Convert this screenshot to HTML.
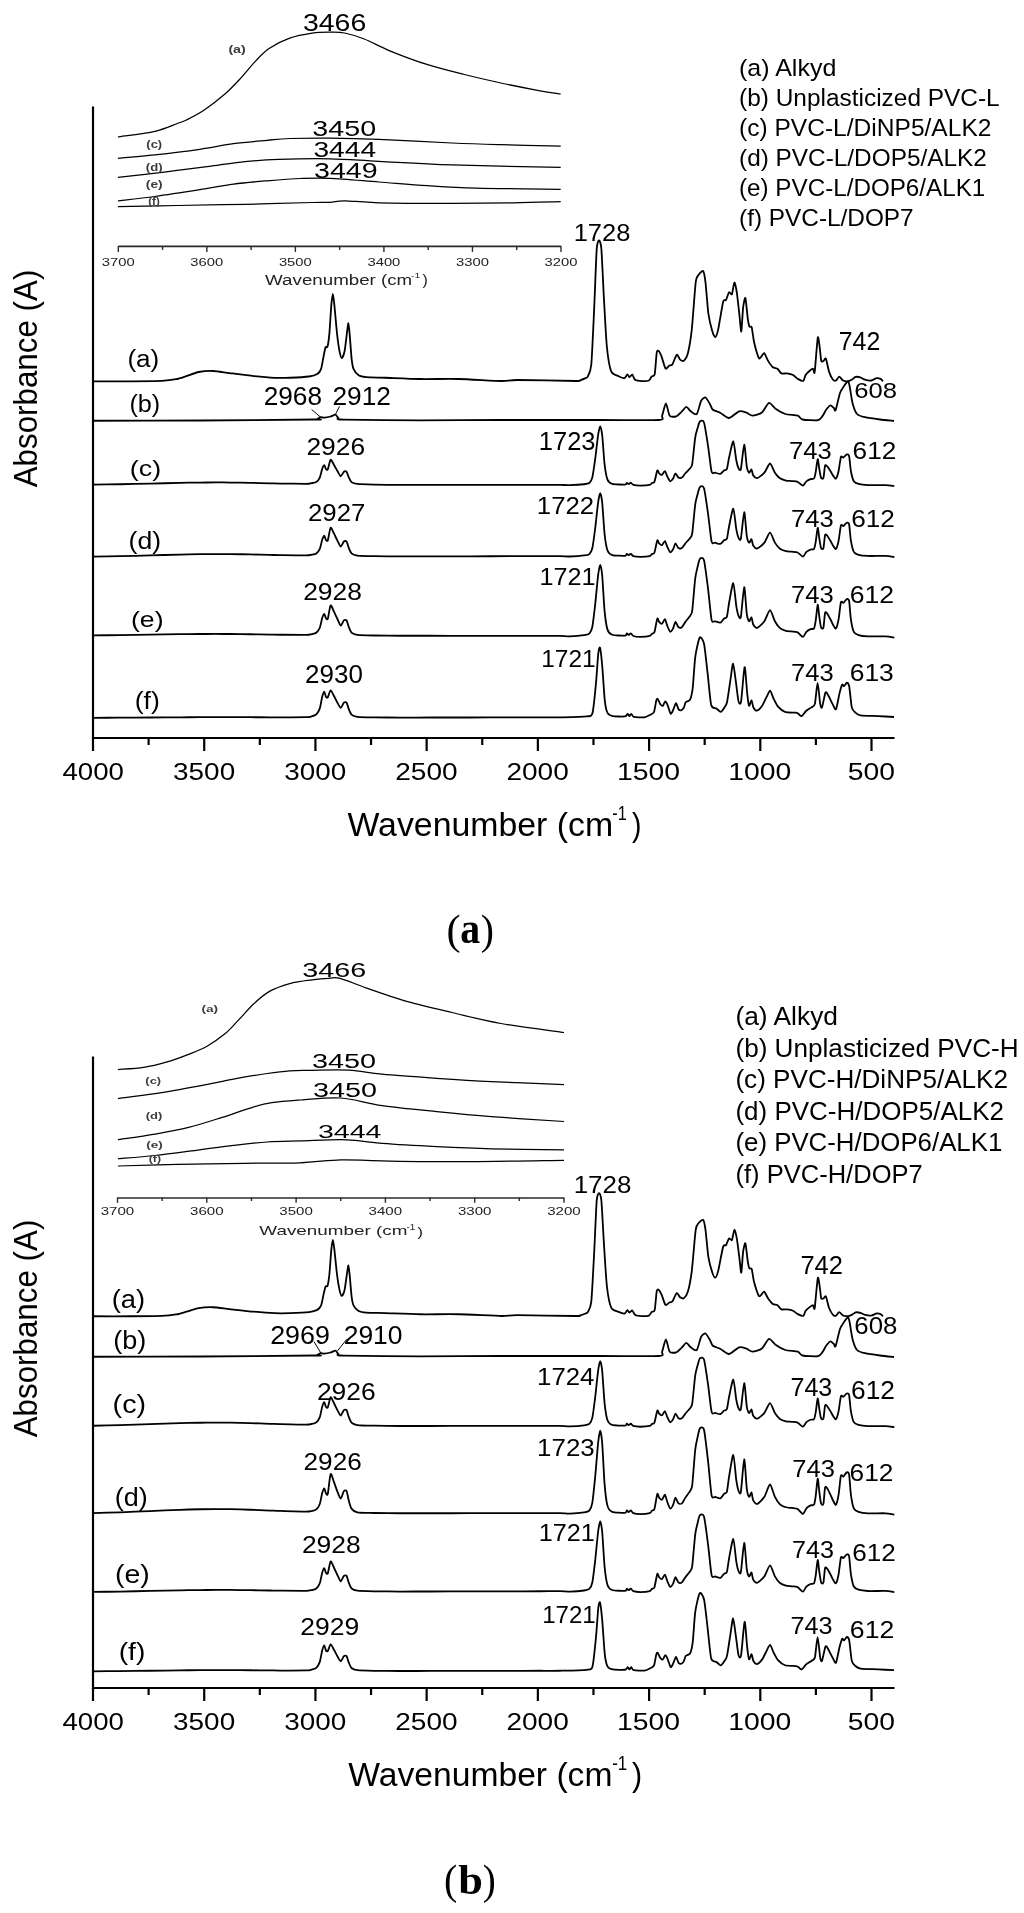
<!DOCTYPE html>
<html><head><meta charset="utf-8"><style>
html,body{margin:0;padding:0;background:#fff;overflow:hidden;}
svg{display:block;will-change:transform;}
</style></head><body>
<svg width="1024" height="1913" viewBox="0 0 1024 1913">
<rect width="1024" height="1913" fill="#fff"/>
<g fill="#000">
<line x1="93.00" y1="106.40" x2="93.00" y2="739.00" stroke="#000" stroke-width="2.2"/>
<line x1="92.00" y1="738.00" x2="894.50" y2="738.00" stroke="#000" stroke-width="2.2"/>
<line x1="93.00" y1="738.00" x2="93.00" y2="751.00" stroke="#000" stroke-width="2.2"/>
<line x1="148.61" y1="738.00" x2="148.61" y2="745.00" stroke="#000" stroke-width="2.2"/>
<line x1="204.21" y1="738.00" x2="204.21" y2="751.00" stroke="#000" stroke-width="2.2"/>
<line x1="259.82" y1="738.00" x2="259.82" y2="745.00" stroke="#000" stroke-width="2.2"/>
<line x1="315.43" y1="738.00" x2="315.43" y2="751.00" stroke="#000" stroke-width="2.2"/>
<line x1="371.04" y1="738.00" x2="371.04" y2="745.00" stroke="#000" stroke-width="2.2"/>
<line x1="426.64" y1="738.00" x2="426.64" y2="751.00" stroke="#000" stroke-width="2.2"/>
<line x1="482.25" y1="738.00" x2="482.25" y2="745.00" stroke="#000" stroke-width="2.2"/>
<line x1="537.86" y1="738.00" x2="537.86" y2="751.00" stroke="#000" stroke-width="2.2"/>
<line x1="593.47" y1="738.00" x2="593.47" y2="745.00" stroke="#000" stroke-width="2.2"/>
<line x1="649.07" y1="738.00" x2="649.07" y2="751.00" stroke="#000" stroke-width="2.2"/>
<line x1="704.68" y1="738.00" x2="704.68" y2="745.00" stroke="#000" stroke-width="2.2"/>
<line x1="760.29" y1="738.00" x2="760.29" y2="751.00" stroke="#000" stroke-width="2.2"/>
<line x1="815.90" y1="738.00" x2="815.90" y2="745.00" stroke="#000" stroke-width="2.2"/>
<line x1="871.50" y1="738.00" x2="871.50" y2="751.00" stroke="#000" stroke-width="2.2"/>
<text transform="translate(62.45,779.75) scale(1.1218,1)" font-size="24.65" font-family='"Liberation Sans", sans-serif' font-weight="normal">4000</text>
<text transform="translate(173.10,779.75) scale(1.1322,1)" font-size="24.65" font-family='"Liberation Sans", sans-serif' font-weight="normal">3500</text>
<text transform="translate(284.31,779.75) scale(1.1322,1)" font-size="24.65" font-family='"Liberation Sans", sans-serif' font-weight="normal">3000</text>
<text transform="translate(395.24,779.75) scale(1.1375,1)" font-size="24.65" font-family='"Liberation Sans", sans-serif' font-weight="normal">2500</text>
<text transform="translate(506.46,779.75) scale(1.1375,1)" font-size="24.65" font-family='"Liberation Sans", sans-serif' font-weight="normal">2000</text>
<text transform="translate(616.95,779.75) scale(1.1510,1)" font-size="24.65" font-family='"Liberation Sans", sans-serif' font-weight="normal">1500</text>
<text transform="translate(728.16,779.75) scale(1.1510,1)" font-size="24.65" font-family='"Liberation Sans", sans-serif' font-weight="normal">1000</text>
<text transform="translate(847.87,779.75) scale(1.1482,1)" font-size="24.65" font-family='"Liberation Sans", sans-serif' font-weight="normal">500</text>
<line x1="118.30" y1="246.40" x2="561.00" y2="246.40" stroke="#2a2a2a" stroke-width="1.6"/>
<line x1="118.30" y1="245.90" x2="118.30" y2="251.90" stroke="#2a2a2a" stroke-width="1.4"/>
<line x1="162.57" y1="245.90" x2="162.57" y2="249.90" stroke="#2a2a2a" stroke-width="1.4"/>
<line x1="206.84" y1="245.90" x2="206.84" y2="251.90" stroke="#2a2a2a" stroke-width="1.4"/>
<line x1="251.11" y1="245.90" x2="251.11" y2="249.90" stroke="#2a2a2a" stroke-width="1.4"/>
<line x1="295.38" y1="245.90" x2="295.38" y2="251.90" stroke="#2a2a2a" stroke-width="1.4"/>
<line x1="339.65" y1="245.90" x2="339.65" y2="249.90" stroke="#2a2a2a" stroke-width="1.4"/>
<line x1="383.92" y1="245.90" x2="383.92" y2="251.90" stroke="#2a2a2a" stroke-width="1.4"/>
<line x1="428.19" y1="245.90" x2="428.19" y2="249.90" stroke="#2a2a2a" stroke-width="1.4"/>
<line x1="472.46" y1="245.90" x2="472.46" y2="251.90" stroke="#2a2a2a" stroke-width="1.4"/>
<line x1="516.73" y1="245.90" x2="516.73" y2="249.90" stroke="#2a2a2a" stroke-width="1.4"/>
<line x1="561.00" y1="245.90" x2="561.00" y2="251.90" stroke="#2a2a2a" stroke-width="1.4"/>
<text transform="translate(101.81,265.78) scale(1.2652,1)" font-size="11.69" font-family='"Liberation Sans", sans-serif' font-weight="normal" fill="#222">3700</text>
<text transform="translate(190.35,265.78) scale(1.2652,1)" font-size="11.69" font-family='"Liberation Sans", sans-serif' font-weight="normal" fill="#222">3600</text>
<text transform="translate(278.89,265.78) scale(1.2652,1)" font-size="11.69" font-family='"Liberation Sans", sans-serif' font-weight="normal" fill="#222">3500</text>
<text transform="translate(367.43,265.78) scale(1.2652,1)" font-size="11.69" font-family='"Liberation Sans", sans-serif' font-weight="normal" fill="#222">3400</text>
<text transform="translate(455.97,265.78) scale(1.2652,1)" font-size="11.69" font-family='"Liberation Sans", sans-serif' font-weight="normal" fill="#222">3300</text>
<text transform="translate(544.51,265.78) scale(1.2652,1)" font-size="11.69" font-family='"Liberation Sans", sans-serif' font-weight="normal" fill="#222">3200</text>
<path d="M117.90,137.00 C124.07,136.05 144.98,133.55 154.90,131.30 C164.82,129.05 172.15,125.38 177.40,123.50 C182.65,121.62 181.92,122.25 186.40,120.00 C190.88,117.75 197.93,114.28 204.30,110.00 C210.67,105.72 218.60,99.53 224.60,94.30 C230.60,89.07 235.07,84.22 240.30,78.60 C245.53,72.98 251.13,65.65 256.00,60.60 C260.87,55.55 263.88,52.03 269.50,48.30 C275.12,44.57 282.58,40.72 289.70,38.20 C296.82,35.68 305.57,34.20 312.20,33.20 C318.83,32.20 324.10,32.23 329.50,32.20 C334.90,32.17 338.82,31.87 344.60,33.00 C350.38,34.13 356.47,35.95 364.20,39.00 C371.93,42.05 380.42,47.02 391.00,51.30 C401.58,55.58 415.48,60.83 427.70,64.70 C439.92,68.57 452.10,71.45 464.30,74.50 C476.50,77.55 488.70,80.37 500.90,83.00 C513.10,85.63 527.53,88.47 537.50,90.30 C547.47,92.13 556.83,93.38 560.70,94.00" fill="none" stroke="#000" stroke-width="1.25" stroke-linejoin="round"/>
<path d="M117.90,158.30 C124.07,157.73 141.25,156.40 154.90,154.90 C168.55,153.40 186.70,151.17 199.80,149.30 C212.90,147.43 222.27,145.20 233.50,143.70 C244.73,142.20 257.83,141.17 267.20,140.30 C276.57,139.43 279.23,138.87 289.70,138.50 C300.17,138.13 315.15,137.97 330.00,138.10 C344.85,138.23 358.47,138.48 378.80,139.30 C399.13,140.12 431.65,142.10 452.00,143.00 C472.35,143.90 482.78,144.18 500.90,144.70 C519.02,145.22 550.73,145.87 560.70,146.10" fill="none" stroke="#000" stroke-width="1.25" stroke-linejoin="round"/>
<path d="M117.90,177.40 C125.95,176.47 150.67,173.67 166.20,171.80 C181.73,169.93 198.00,167.88 211.10,166.20 C224.20,164.52 233.57,162.83 244.80,161.70 C256.03,160.57 264.30,159.88 278.50,159.40 C292.70,158.92 313.28,158.48 330.00,158.80 C346.72,159.12 358.47,160.28 378.80,161.30 C399.13,162.32 421.68,163.88 452.00,164.90 C482.32,165.92 542.58,166.98 560.70,167.40" fill="none" stroke="#000" stroke-width="1.25" stroke-linejoin="round"/>
<path d="M117.90,201.00 C124.07,200.25 141.25,198.38 154.90,196.50 C168.55,194.62 186.70,191.77 199.80,189.70 C212.90,187.63 222.27,185.58 233.50,184.10 C244.73,182.62 255.97,181.73 267.20,180.80 C278.43,179.87 290.43,178.90 300.90,178.50 C311.37,178.10 317.02,177.82 330.00,178.40 C342.98,178.98 362.52,180.78 378.80,182.00 C395.08,183.22 411.42,184.68 427.70,185.70 C443.98,186.72 454.33,187.50 476.50,188.10 C498.67,188.70 546.67,189.10 560.70,189.30" fill="none" stroke="#000" stroke-width="1.25" stroke-linejoin="round"/>
<path d="M117.90,206.60 C127.82,206.42 156.25,205.88 177.40,205.50 C198.55,205.12 222.33,204.80 244.80,204.30 C267.27,203.80 298.00,202.83 312.20,202.50 C326.40,202.17 324.60,202.58 330.00,202.30 C335.40,202.02 336.47,200.72 344.60,200.80 C352.73,200.88 360.90,202.38 378.80,202.80 C396.70,203.22 429.62,203.30 452.00,203.30 C474.38,203.30 494.98,203.08 513.10,202.80 C531.22,202.52 552.77,201.80 560.70,201.60" fill="none" stroke="#000" stroke-width="1.25" stroke-linejoin="round"/>
<text transform="translate(302.96,31.16) scale(1.2091,1)" font-size="23.52" font-family='"Liberation Sans", sans-serif' font-weight="normal">3466</text>
<text transform="translate(312.35,135.98) scale(1.3231,1)" font-size="21.69" font-family='"Liberation Sans", sans-serif' font-weight="normal">3450</text>
<text transform="translate(313.48,156.68) scale(1.2965,1)" font-size="21.69" font-family='"Liberation Sans", sans-serif' font-weight="normal">3444</text>
<text transform="translate(314.06,177.68) scale(1.3016,1)" font-size="21.97" font-family='"Liberation Sans", sans-serif' font-weight="normal">3449</text>
<text transform="translate(228.39,53.26) scale(1.2786,1)" font-size="11.12" font-family='"Liberation Sans", sans-serif' font-weight="bold" fill="#3c3c3c">(a)</text>
<text transform="translate(146.35,147.81) scale(1.1896,1)" font-size="10.91" font-family='"Liberation Sans", sans-serif' font-weight="bold" fill="#3c3c3c">(c)</text>
<text transform="translate(145.84,170.60) scale(1.2532,1)" font-size="10.48" font-family='"Liberation Sans", sans-serif' font-weight="bold" fill="#3c3c3c">(d)</text>
<text transform="translate(145.81,188.45) scale(1.2882,1)" font-size="10.70" font-family='"Liberation Sans", sans-serif' font-weight="bold" fill="#3c3c3c">(e)</text>
<text transform="translate(148.22,204.69) scale(1.1494,1)" font-size="10.05" font-family='"Liberation Sans", sans-serif' font-weight="bold" fill="#3c3c3c">(f)</text>
<text transform="translate(265.11,284.70) scale(1.2698,1)" font-size="14.76" font-family='"Liberation Sans", sans-serif' font-weight="normal" fill="#222">Wavenumber (cm</text>
<text transform="translate(411.03,277.50) scale(1.3173,1)" font-size="7.97" font-family='"Liberation Sans", sans-serif' font-weight="normal" fill="#222">-1</text>
<text transform="translate(422.62,284.84) scale(1.1226,1)" font-size="14.12" font-family='"Liberation Sans", sans-serif' font-weight="normal" fill="#222">)</text>
<text transform="translate(739.00,76.41) scale(1.0127,1)" font-size="24.71" font-family='"Liberation Sans", sans-serif' font-weight="normal">(a) Alkyd</text>
<text transform="translate(739.03,106.41) scale(0.9893,1)" font-size="24.71" font-family='"Liberation Sans", sans-serif' font-weight="normal">(b) Unplasticized PVC-L</text>
<text transform="translate(739.03,136.41) scale(0.9938,1)" font-size="24.71" font-family='"Liberation Sans", sans-serif' font-weight="normal">(c) PVC-L/DiNP5/ALK2</text>
<text transform="translate(739.04,166.41) scale(0.9866,1)" font-size="24.71" font-family='"Liberation Sans", sans-serif' font-weight="normal">(d) PVC-L/DOP5/ALK2</text>
<text transform="translate(739.05,196.41) scale(0.9804,1)" font-size="24.71" font-family='"Liberation Sans", sans-serif' font-weight="normal">(e) PVC-L/DOP6/ALK1</text>
<text transform="translate(739.04,226.41) scale(0.9862,1)" font-size="24.71" font-family='"Liberation Sans", sans-serif' font-weight="normal">(f) PVC-L/DOP7</text>
<path d="M93.00,381.30 C97.43,381.30 122.97,381.35 131.00,381.30 C139.03,381.25 156.54,381.14 161.80,380.90 C167.06,380.65 173.23,379.76 176.10,379.20 C178.97,378.64 183.76,376.94 186.40,376.10 C189.04,375.26 195.60,372.60 198.70,372.00 C201.80,371.40 209.41,370.87 213.00,371.00 C216.59,371.13 224.72,372.50 229.50,373.10 C234.28,373.70 248.74,375.55 254.00,376.10 C259.26,376.65 270.40,377.61 274.60,377.80 C278.80,377.99 285.99,377.90 290.00,377.75 C294.01,377.60 305.81,376.94 309.00,376.50 C312.19,376.06 315.89,374.89 317.30,374.00 C318.71,373.11 320.37,370.98 321.10,368.90 C321.84,366.82 323.09,358.72 323.60,356.20 C324.11,353.68 325.05,348.42 325.50,347.30 C325.95,346.18 327.05,348.23 327.50,346.60 C327.95,344.97 328.96,338.11 329.40,333.30 C329.84,328.49 330.89,309.98 331.30,305.40 C331.71,300.81 332.54,294.00 332.90,294.00 C333.26,294.00 333.92,300.81 334.40,305.40 C334.88,309.98 336.40,327.97 337.00,333.30 C337.60,338.63 338.94,348.21 339.50,351.10 C340.06,353.99 341.20,358.10 341.80,358.10 C342.40,358.10 344.01,353.99 344.60,351.10 C345.19,348.21 346.46,336.56 346.90,333.30 C347.34,330.05 348.07,323.05 348.40,323.20 C348.73,323.35 349.33,330.46 349.70,334.60 C350.07,338.74 351.16,354.70 351.60,358.70 C352.04,362.70 352.68,366.97 353.50,368.90 C354.32,370.82 357.12,374.24 358.60,375.20 C360.08,376.16 363.10,376.80 366.20,377.10 C369.30,377.40 378.92,377.53 385.20,377.75 C391.48,377.97 411.44,378.85 420.00,379.00 C428.56,379.15 449.08,378.77 458.60,379.00 C468.12,379.23 494.76,380.88 501.60,381.00 C508.44,381.12 508.54,380.00 517.20,380.00 C525.86,380.00 568.53,380.94 575.80,381.00 C583.07,381.06 578.37,380.84 579.50,380.50 C580.63,380.16 584.53,378.57 585.50,378.10 C586.47,377.63 587.12,378.09 587.80,376.50 C588.48,374.91 590.55,372.50 591.30,364.50 C592.05,356.50 593.57,321.34 594.20,307.90 C594.83,294.46 596.13,257.16 596.70,249.30 C597.27,241.44 598.55,240.50 599.10,240.50 C599.65,240.50 600.84,242.59 601.40,249.30 C601.96,256.01 603.26,286.60 603.90,298.00 C604.54,309.40 606.05,338.44 606.90,347.00 C607.75,355.56 609.84,367.99 611.20,371.40 C612.57,374.81 617.05,375.46 618.60,376.25 C620.15,377.04 623.47,378.43 624.50,378.20 C625.53,377.97 626.84,374.42 627.40,374.30 C627.96,374.18 628.73,377.15 629.30,377.20 C629.87,377.25 631.61,374.40 632.30,374.70 C632.99,375.00 634.07,379.05 635.20,379.80 C636.33,380.55 640.40,381.02 642.00,381.10 C643.60,381.18 647.76,381.07 648.90,380.50 C650.04,379.93 651.12,376.97 651.80,376.25 C652.48,375.53 654.13,377.04 654.70,374.30 C655.27,371.56 656.25,355.53 656.70,352.80 C657.16,350.07 658.03,350.44 658.60,350.90 C659.17,351.35 660.80,354.66 661.60,356.70 C662.40,358.74 664.59,367.37 665.50,368.40 C666.41,369.43 668.61,365.95 669.40,365.50 C670.19,365.05 671.44,365.75 672.30,364.50 C673.16,363.25 675.89,355.37 676.80,354.80 C677.71,354.23 679.26,358.92 680.10,359.60 C680.94,360.28 683.08,361.39 684.00,360.60 C684.92,359.81 687.09,356.44 688.00,352.80 C688.91,349.16 690.90,337.60 691.80,329.40 C692.70,321.20 694.89,288.88 695.70,282.50 C696.51,276.12 697.83,276.02 698.70,274.70 C699.58,273.38 702.41,270.29 703.20,271.20 C703.99,272.11 704.89,277.54 705.50,282.50 C706.11,287.46 707.61,308.06 708.40,313.75 C709.19,319.44 711.50,328.56 712.30,331.30 C713.10,334.04 714.61,337.42 715.30,337.20 C715.99,336.98 717.29,333.51 718.20,329.40 C719.11,325.29 722.19,305.43 723.10,302.00 C724.01,298.57 725.31,301.13 726.00,300.00 C726.69,298.87 728.31,292.98 729.00,292.30 C729.69,291.62 731.27,295.34 731.90,294.20 C732.53,293.06 733.83,282.72 734.40,282.50 C734.97,282.28 736.23,288.65 736.80,292.30 C737.37,295.95 738.77,309.18 739.30,313.75 C739.82,318.32 740.86,332.19 741.30,331.50 C741.74,330.81 742.62,311.71 743.10,307.80 C743.58,303.89 744.85,296.72 745.40,298.00 C745.95,299.28 747.33,315.41 747.80,318.75 C748.27,322.09 748.94,325.60 749.40,326.60 C749.86,327.60 751.15,325.48 751.70,327.30 C752.25,329.12 753.28,338.64 754.10,342.20 C754.92,345.76 757.93,356.07 758.75,357.80 C759.57,359.53 760.46,357.55 761.10,357.00 C761.74,356.45 763.38,352.65 764.20,353.10 C765.02,353.56 767.10,359.25 768.10,360.90 C769.10,362.54 771.70,366.28 772.80,367.20 C773.90,368.12 776.50,368.03 777.50,368.75 C778.50,369.47 780.30,372.86 781.40,373.40 C782.50,373.94 785.53,373.21 786.90,373.40 C788.26,373.59 791.83,374.36 793.10,375.00 C794.37,375.64 796.61,378.21 797.80,378.90 C798.99,379.59 802.39,381.35 803.30,380.90 C804.21,380.44 804.78,376.24 805.60,375.00 C806.42,373.76 809.42,371.03 810.30,370.30 C811.17,369.57 812.59,368.56 813.10,368.75 C813.61,368.94 814.15,375.55 814.70,371.90 C815.25,368.25 817.18,340.06 817.80,337.50 C818.42,334.94 819.60,347.27 820.00,350.00 C820.40,352.73 820.83,359.63 821.25,360.90 C821.67,362.17 823.06,361.17 823.60,360.90 C824.14,360.63 825.26,357.32 825.90,358.60 C826.54,359.88 828.27,369.44 829.10,371.90 C829.93,374.36 832.18,378.70 833.00,379.70 C833.82,380.70 835.38,380.86 836.10,380.50 C836.82,380.14 838.38,376.60 839.20,376.60 C840.02,376.60 842.10,379.96 843.10,380.50 C844.10,381.04 846.80,381.34 847.80,381.25 C848.80,381.16 850.79,380.21 851.70,379.70 C852.61,379.19 854.60,377.18 855.60,376.90 C856.60,376.62 859.20,376.97 860.30,377.30 C861.40,377.63 863.72,379.33 865.00,379.70 C866.28,380.07 869.88,380.69 871.25,380.50 C872.62,380.31 875.61,378.29 876.70,378.10 C877.79,377.91 879.87,378.53 880.60,378.90 C881.34,379.27 882.72,380.98 883.00,381.25" fill="none" stroke="#000" stroke-width="1.8" stroke-linejoin="round"/>
<path d="M93.00,420.75 C105.48,420.72 174.16,420.65 200.00,420.50 C225.84,420.35 300.88,419.63 314.50,419.50 C328.12,419.37 316.00,419.68 316.70,419.40 C317.40,419.12 319.61,417.30 320.50,417.10 C321.39,416.90 323.12,417.77 324.30,417.70 C325.48,417.63 329.31,416.86 330.60,416.50 C331.90,416.14 334.51,414.46 335.40,414.60 C336.29,414.74 337.28,417.12 338.20,417.70 C339.12,418.28 333.76,419.30 343.30,419.60 C352.84,419.90 401.72,420.25 420.00,420.30 C438.28,420.35 479.00,420.04 500.00,420.00 C521.00,419.96 581.50,420.00 600.00,420.00 C618.50,420.00 651.36,420.50 658.60,420.00 C665.85,419.50 661.25,417.64 662.10,415.70 C662.95,413.76 665.01,403.40 665.90,403.40 C666.79,403.40 668.50,414.19 669.70,415.70 C670.90,417.20 674.77,416.81 676.20,416.30 C677.63,415.79 680.81,412.40 682.00,411.30 C683.19,410.20 685.37,406.90 686.40,406.90 C687.43,406.90 689.60,410.45 690.80,411.30 C692.00,412.15 695.50,415.40 696.70,414.20 C697.90,413.00 700.07,402.95 701.10,401.00 C702.13,399.05 704.47,397.15 705.50,397.50 C706.53,397.85 709.05,402.56 709.90,404.00 C710.75,405.44 711.61,408.79 712.80,409.80 C713.99,410.81 718.22,411.74 720.10,412.70 C721.98,413.66 726.67,418.16 728.90,418.00 C731.13,417.84 737.15,411.92 739.20,411.30 C741.25,410.68 744.95,412.20 746.50,412.70 C748.05,413.20 750.70,415.62 752.50,415.60 C754.30,415.58 759.98,413.99 761.90,412.50 C763.82,411.01 767.37,403.21 769.00,402.80 C770.63,402.39 774.00,407.69 775.90,409.00 C777.80,410.31 782.75,413.23 785.30,414.00 C787.85,414.77 795.79,414.96 797.80,415.60 C799.81,416.24 800.14,418.96 802.50,419.50 C804.86,420.04 815.63,420.65 818.00,420.20 C820.37,419.75 821.87,416.79 822.80,415.60 C823.73,414.41 825.16,411.18 826.00,410.00 C826.84,408.82 829.10,405.76 830.00,405.50 C830.90,405.24 833.10,407.25 833.75,407.80 C834.40,408.35 834.87,411.93 835.60,410.20 C836.33,408.47 839.02,395.82 840.00,393.00 C840.98,390.18 843.07,387.34 844.00,386.00 C844.93,384.66 847.35,381.50 848.00,381.50 C848.65,381.50 849.08,383.49 849.60,386.00 C850.12,388.51 851.64,399.73 852.50,403.00 C853.36,406.27 855.54,412.34 857.00,414.00 C858.46,415.66 862.32,416.56 865.00,417.20 C867.68,417.84 876.62,419.06 880.00,419.50 C883.38,419.94 892.37,420.82 894.00,421.00" fill="none" stroke="#000" stroke-width="1.8" stroke-linejoin="round"/>
<path d="M93.00,484.68 C96.15,484.63 113.35,484.40 120.00,484.27 C126.65,484.15 143.00,483.75 150.00,483.59 C157.00,483.42 174.17,482.98 180.00,482.86 C185.83,482.73 195.92,482.58 200.00,482.54 C204.08,482.49 211.50,482.46 215.00,482.45 C218.50,482.45 225.92,482.48 230.00,482.53 C234.08,482.57 245.33,482.74 250.00,482.83 C254.67,482.92 266.50,483.21 270.00,483.29 C273.50,483.37 275.80,483.47 280.00,483.54 C284.20,483.60 302.31,483.87 306.00,483.83 C309.69,483.78 310.40,483.35 311.60,483.13 C312.80,482.92 315.34,482.63 316.30,481.98 C317.26,481.34 319.11,479.11 319.80,477.58 C320.49,476.05 321.68,470.35 322.20,468.88 C322.72,467.42 323.87,465.03 324.30,465.03 C324.73,465.04 325.49,468.42 325.90,468.94 C326.31,469.45 327.25,470.50 327.80,469.43 C328.35,468.35 329.89,460.27 330.60,459.72 C331.31,459.17 333.11,463.41 333.90,464.72 C334.69,466.03 336.61,469.61 337.40,470.95 C338.19,472.30 339.94,476.15 340.70,476.24 C341.46,476.34 343.21,472.28 343.90,471.76 C344.59,471.23 346.05,471.17 346.60,471.78 C347.15,472.38 348.03,475.74 348.60,476.95 C349.17,478.16 350.49,481.32 351.50,482.13 C352.51,482.95 354.70,483.66 357.30,483.95 C359.90,484.24 368.82,484.51 373.80,484.62 C378.78,484.73 393.44,484.83 400.00,484.86 C406.56,484.89 421.83,484.87 430.00,484.87 C438.17,484.87 460.67,484.86 470.00,484.86 C479.33,484.86 501.83,484.85 510.00,484.84 C518.17,484.84 534.17,484.83 540.00,484.83 C545.83,484.83 556.50,484.78 560.00,484.83 C563.50,484.87 567.19,485.25 570.00,485.19 C572.81,485.12 581.85,484.52 584.10,484.26 C586.35,484.01 588.34,483.76 589.30,482.97 C590.26,482.19 591.61,480.36 592.30,477.56 C592.99,474.76 594.52,463.92 595.20,458.96 C595.88,454.00 597.52,438.86 598.10,435.06 C598.68,431.25 599.72,426.31 600.20,426.31 C600.68,426.31 601.69,430.61 602.20,435.05 C602.71,439.50 603.98,459.23 604.60,464.44 C605.22,469.65 606.61,477.42 607.50,479.69 C608.39,481.96 610.15,483.31 612.20,483.89 C614.25,484.46 623.40,484.75 625.10,484.62 C626.80,484.49 626.39,482.84 626.80,482.78 C627.21,482.71 628.12,484.06 628.60,484.06 C629.08,484.06 630.35,482.68 630.90,482.77 C631.45,482.87 632.20,484.56 633.30,484.89 C634.40,485.22 638.39,485.62 640.30,485.62 C642.21,485.62 648.34,485.20 649.70,484.88 C651.07,484.57 651.45,483.31 652.00,482.95 C652.55,482.60 653.78,483.29 654.40,481.85 C655.02,480.40 656.75,471.53 657.30,470.53 C657.85,469.53 658.55,472.78 659.10,473.29 C659.65,473.79 661.32,475.11 662.00,474.85 C662.68,474.59 664.28,470.88 664.90,471.08 C665.52,471.27 666.68,475.30 667.30,476.50 C667.92,477.71 669.52,481.13 670.20,481.38 C670.88,481.63 672.48,479.56 673.10,478.62 C673.72,477.67 674.88,473.40 675.50,473.28 C676.12,473.16 677.65,477.10 678.40,477.60 C679.15,478.11 681.08,478.11 681.90,477.60 C682.72,477.10 684.40,474.42 685.40,473.28 C686.40,472.14 689.70,468.99 690.50,467.85 C691.30,466.71 691.75,467.04 692.30,463.52 C692.85,460.00 694.58,441.81 695.20,437.67 C695.82,433.53 697.05,429.90 697.60,428.01 C698.15,426.12 699.15,422.11 699.90,421.48 C700.65,420.84 703.04,419.68 704.00,422.58 C704.96,425.48 707.21,440.59 708.10,446.31 C708.99,452.03 710.77,468.53 711.60,471.61 C712.43,474.69 714.17,472.46 715.20,472.71 C716.23,472.97 719.37,474.08 720.40,473.82 C721.43,473.56 723.24,471.07 724.00,470.50 C724.76,469.93 726.29,470.51 726.90,468.94 C727.51,467.37 728.45,460.28 729.20,457.07 C729.95,453.86 732.47,441.05 733.30,441.43 C734.13,441.80 735.68,457.14 736.30,460.29 C736.92,463.43 738.06,467.37 738.60,468.38 C739.14,469.39 740.25,471.70 740.90,468.93 C741.55,466.16 743.51,444.90 744.20,444.64 C744.89,444.39 746.23,463.45 746.80,466.72 C747.37,470.00 748.55,472.38 749.10,472.70 C749.65,473.02 751.02,469.17 751.50,469.48 C751.98,469.79 752.52,474.37 753.20,475.37 C753.88,476.37 755.99,478.35 757.30,478.04 C758.61,477.72 762.92,474.39 764.40,472.70 C765.88,471.00 768.77,463.49 770.00,463.49 C771.23,463.49 773.73,470.96 774.90,472.69 C776.07,474.42 778.72,477.39 780.00,478.30 C781.28,479.21 784.53,480.19 785.90,480.51 C787.26,480.83 790.34,480.91 791.70,481.06 C793.07,481.21 796.29,481.27 797.60,481.79 C798.91,482.32 801.87,485.62 802.90,485.56 C803.93,485.51 805.51,482.08 806.40,481.33 C807.29,480.58 809.61,479.44 810.50,479.12 C811.39,478.80 813.39,479.38 814.00,478.57 C814.61,477.75 815.27,474.39 815.70,472.13 C816.13,469.86 817.28,459.53 817.70,459.15 C818.12,458.78 818.91,466.76 819.30,468.90 C819.68,471.05 820.52,476.49 821.00,477.55 C821.48,478.61 822.92,479.40 823.40,478.01 C823.88,476.63 824.62,467.00 825.10,465.68 C825.58,464.36 826.88,466.07 827.50,466.69 C828.12,467.32 829.72,469.94 830.40,471.02 C831.08,472.09 832.65,475.01 833.30,475.89 C833.95,476.77 835.38,479.13 836.00,478.56 C836.62,477.99 838.03,473.52 838.60,471.01 C839.17,468.50 840.35,458.60 840.90,457.03 C841.45,455.46 842.82,457.71 843.30,457.58 C843.78,457.45 844.57,456.30 845.00,455.92 C845.43,455.55 846.52,454.36 847.00,454.36 C847.48,454.36 848.64,453.98 849.10,455.92 C849.56,457.86 850.35,468.05 850.90,471.01 C851.45,473.97 852.91,479.80 853.80,481.31 C854.69,482.82 856.86,483.54 858.50,483.98 C860.14,484.42 864.75,484.95 867.90,485.08 C871.05,485.21 882.42,484.95 885.50,485.07 C888.58,485.19 893.27,485.96 894.30,486.08" fill="none" stroke="#000" stroke-width="1.8" stroke-linejoin="round"/>
<path d="M93.00,556.66 C96.15,556.60 113.35,556.32 120.00,556.18 C126.65,556.03 143.00,555.58 150.00,555.39 C157.00,555.20 174.17,554.70 180.00,554.56 C185.83,554.42 195.92,554.24 200.00,554.18 C204.08,554.13 211.50,554.08 215.00,554.07 C218.50,554.06 225.92,554.08 230.00,554.13 C234.08,554.17 245.33,554.34 250.00,554.43 C254.67,554.52 266.50,554.81 270.00,554.89 C273.50,554.98 275.80,555.08 280.00,555.15 C284.20,555.21 302.31,555.49 306.00,555.44 C309.69,555.40 310.40,554.98 311.60,554.75 C312.80,554.52 315.34,554.18 316.30,553.49 C317.26,552.81 319.11,550.48 319.80,548.88 C320.49,547.28 321.68,541.31 322.20,539.78 C322.72,538.25 323.87,535.74 324.30,535.75 C324.73,535.76 325.49,539.30 325.90,539.83 C326.31,540.37 327.25,541.76 327.80,540.34 C328.35,538.93 329.89,528.53 330.60,527.73 C331.31,526.93 333.11,531.95 333.90,533.45 C334.69,534.95 336.61,539.05 337.40,540.58 C338.19,542.12 339.94,546.51 340.70,546.61 C341.46,546.72 343.21,542.06 343.90,541.46 C344.59,540.86 346.05,540.78 346.60,541.48 C347.15,542.17 348.03,546.03 348.60,547.41 C349.17,548.80 350.49,552.40 351.50,553.35 C352.51,554.30 354.70,555.21 357.30,555.54 C359.90,555.87 368.82,556.09 373.80,556.19 C378.78,556.29 393.44,556.38 400.00,556.40 C406.56,556.42 421.83,556.38 430.00,556.36 C438.17,556.35 460.67,556.31 470.00,556.29 C479.33,556.28 501.83,556.23 510.00,556.22 C518.17,556.20 534.17,556.17 540.00,556.16 C545.83,556.15 556.50,556.09 560.00,556.13 C563.50,556.17 567.19,556.58 570.00,556.51 C572.81,556.43 581.85,555.76 584.10,555.48 C586.35,555.20 588.34,554.91 589.30,554.07 C590.26,553.23 591.61,551.28 592.30,548.26 C592.99,545.25 594.52,533.59 595.20,528.26 C595.88,522.93 597.52,506.65 598.10,502.55 C598.68,498.46 599.72,493.15 600.20,493.15 C600.68,493.15 601.69,497.76 602.20,502.55 C602.71,507.33 603.98,528.54 604.60,534.14 C605.22,539.74 606.61,548.10 607.50,550.54 C608.39,552.97 610.15,554.41 612.20,555.03 C614.25,555.64 623.40,555.95 625.10,555.80 C626.80,555.66 626.39,553.87 626.80,553.80 C627.21,553.73 628.12,555.20 628.60,555.20 C629.08,555.20 630.35,553.69 630.90,553.79 C631.45,553.90 632.20,555.73 633.30,556.09 C634.40,556.45 638.39,556.88 640.30,556.88 C642.21,556.87 648.34,556.40 649.70,556.06 C651.07,555.72 651.45,554.34 652.00,553.95 C652.55,553.57 653.78,554.32 654.40,552.75 C655.02,551.17 656.75,541.53 657.30,540.44 C657.85,539.36 658.55,542.89 659.10,543.44 C659.65,543.99 661.32,545.42 662.00,545.13 C662.68,544.85 664.28,540.82 664.90,541.03 C665.52,541.24 666.68,545.62 667.30,546.92 C667.92,548.23 669.52,551.95 670.20,552.22 C670.88,552.49 672.48,550.24 673.10,549.21 C673.72,548.19 674.88,543.54 675.50,543.41 C676.12,543.28 677.65,547.56 678.40,548.10 C679.15,548.65 681.08,548.65 681.90,548.10 C682.72,547.55 684.40,544.63 685.40,543.39 C686.40,542.15 689.70,538.72 690.50,537.48 C691.30,536.24 691.75,536.61 692.30,532.78 C692.85,528.95 694.58,509.18 695.20,504.67 C695.82,500.17 697.05,496.22 697.60,494.17 C698.15,492.11 699.15,487.75 699.90,487.06 C700.65,486.37 703.04,485.11 704.00,488.26 C704.96,491.40 707.21,507.83 708.10,514.05 C708.99,520.26 710.77,538.19 711.60,541.54 C712.43,544.89 714.17,542.46 715.20,542.73 C716.23,543.01 719.37,544.21 720.40,543.93 C721.43,543.64 723.24,540.94 724.00,540.32 C724.76,539.70 726.29,540.32 726.90,538.61 C727.51,536.91 728.45,529.20 729.20,525.71 C729.95,522.22 732.47,508.29 733.30,508.70 C734.13,509.11 735.68,525.78 736.30,529.20 C736.92,532.61 738.06,536.90 738.60,537.99 C739.14,539.09 740.25,541.60 740.90,538.59 C741.55,535.58 743.51,512.46 744.20,512.18 C744.89,511.90 746.23,532.62 746.80,536.18 C747.37,539.73 748.55,542.32 749.10,542.67 C749.65,543.02 751.02,538.83 751.50,539.17 C751.98,539.50 752.52,544.48 753.20,545.56 C753.88,546.65 755.99,548.80 757.30,548.46 C758.61,548.12 762.92,544.49 764.40,542.64 C765.88,540.80 768.77,532.63 770.00,532.63 C771.23,532.63 773.73,540.75 774.90,542.62 C776.07,544.50 778.72,547.72 780.00,548.71 C781.28,549.70 784.53,550.75 785.90,551.10 C787.26,551.45 790.34,551.53 791.70,551.69 C793.07,551.85 796.29,551.91 797.60,552.48 C798.91,553.05 801.87,556.63 802.90,556.57 C803.93,556.51 805.51,552.78 806.40,551.96 C807.29,551.15 809.61,549.91 810.50,549.56 C811.39,549.20 813.39,549.84 814.00,548.95 C814.61,548.06 815.27,544.41 815.70,541.95 C816.13,539.48 817.28,528.25 817.70,527.84 C818.12,527.43 818.91,536.11 819.30,538.44 C819.68,540.77 820.52,546.68 821.00,547.84 C821.48,548.99 822.92,549.84 823.40,548.33 C823.88,546.83 824.62,536.36 825.10,534.93 C825.58,533.49 826.88,535.35 827.50,536.02 C828.12,536.70 829.72,539.55 830.40,540.72 C831.08,541.88 832.65,545.06 833.30,546.01 C833.95,546.97 835.38,549.53 836.00,548.91 C836.62,548.29 838.03,543.43 838.60,540.70 C839.17,537.97 840.35,527.20 840.90,525.50 C841.45,523.80 842.82,526.24 843.30,526.09 C843.78,525.95 844.57,524.70 845.00,524.29 C845.43,523.88 846.52,522.59 847.00,522.59 C847.48,522.59 848.64,522.17 849.10,524.28 C849.56,526.39 850.35,537.46 850.90,540.68 C851.45,543.90 852.91,550.23 853.80,551.88 C854.69,553.52 856.86,554.29 858.50,554.77 C860.14,555.24 864.75,555.81 867.90,555.95 C871.05,556.08 882.42,555.79 885.50,555.92 C888.58,556.04 893.27,556.87 894.30,557.00" fill="none" stroke="#000" stroke-width="1.8" stroke-linejoin="round"/>
<path d="M93.00,635.38 C96.15,635.35 113.35,635.21 120.00,635.13 C126.65,635.04 143.00,634.79 150.00,634.68 C157.00,634.57 174.17,634.29 180.00,634.21 C185.83,634.13 195.92,634.03 200.00,634.01 C204.08,633.98 211.50,633.96 215.00,633.96 C218.50,633.96 225.92,633.99 230.00,634.02 C234.08,634.05 245.33,634.18 250.00,634.24 C254.67,634.31 266.50,634.51 270.00,634.57 C273.50,634.63 275.80,634.71 280.00,634.75 C284.20,634.78 302.31,634.94 306.00,634.87 C309.69,634.80 310.40,634.39 311.60,634.14 C312.80,633.89 315.34,633.45 316.30,632.71 C317.26,631.97 319.11,629.49 319.80,627.78 C320.49,626.08 321.68,619.72 322.20,618.09 C322.72,616.46 323.87,613.79 324.30,613.79 C324.73,613.79 325.49,617.56 325.90,618.13 C326.31,618.69 327.25,620.14 327.80,618.66 C328.35,617.18 329.89,606.29 330.60,605.45 C331.31,604.61 333.11,609.90 333.90,611.48 C334.69,613.06 336.61,617.35 337.40,619.01 C338.19,620.66 339.94,625.50 340.70,625.65 C341.46,625.81 343.21,620.97 343.90,620.35 C344.59,619.74 346.05,619.66 346.60,620.37 C347.15,621.08 348.03,625.04 348.60,626.46 C349.17,627.89 350.49,631.58 351.50,632.56 C352.51,633.54 354.70,634.49 357.30,634.83 C359.90,635.17 368.82,635.38 373.80,635.49 C378.78,635.59 393.44,635.71 400.00,635.74 C406.56,635.77 421.83,635.76 430.00,635.77 C438.17,635.77 460.67,635.78 470.00,635.79 C479.33,635.79 501.83,635.80 510.00,635.81 C518.17,635.81 534.17,635.82 540.00,635.82 C545.83,635.83 556.50,635.78 560.00,635.83 C563.50,635.89 567.19,636.36 570.00,636.29 C572.81,636.21 581.85,635.49 584.10,635.17 C586.35,634.86 588.34,634.56 589.30,633.61 C590.26,632.66 591.61,630.44 592.30,627.04 C592.99,623.63 594.52,610.46 595.20,604.44 C595.88,598.41 597.52,580.02 598.10,575.40 C598.68,570.77 599.72,564.78 600.20,564.78 C600.68,564.78 601.69,569.99 602.20,575.40 C602.71,580.80 603.98,604.78 604.60,611.11 C605.22,617.44 606.61,626.89 607.50,629.64 C608.39,632.40 610.15,634.04 612.20,634.74 C614.25,635.44 623.40,635.80 625.10,635.64 C626.80,635.49 626.39,633.48 626.80,633.40 C627.21,633.32 628.12,634.97 628.60,634.97 C629.08,634.97 630.35,633.29 630.90,633.40 C631.45,633.52 632.20,635.58 633.30,635.98 C634.40,636.39 638.39,636.88 640.30,636.88 C642.21,636.88 648.34,636.37 649.70,635.99 C651.07,635.61 651.45,634.07 652.00,633.64 C652.55,633.21 653.78,634.06 654.40,632.30 C655.02,630.53 656.75,619.74 657.30,618.52 C657.85,617.31 658.55,621.27 659.10,621.88 C659.65,622.50 661.32,624.10 662.00,623.79 C662.68,623.47 664.28,618.96 664.90,619.20 C665.52,619.43 666.68,624.34 667.30,625.81 C667.92,627.27 669.52,631.44 670.20,631.74 C670.88,632.05 672.48,629.54 673.10,628.39 C673.72,627.24 674.88,622.03 675.50,621.89 C676.12,621.75 677.65,626.54 678.40,627.16 C679.15,627.77 681.08,627.77 681.90,627.16 C682.72,626.54 684.40,623.28 685.40,621.90 C686.40,620.51 689.70,616.68 690.50,615.29 C691.30,613.91 691.75,614.31 692.30,610.03 C692.85,605.74 694.58,583.60 695.20,578.56 C695.82,573.51 697.05,569.10 697.60,566.80 C698.15,564.50 699.15,559.62 699.90,558.85 C700.65,558.08 703.04,556.66 704.00,560.19 C704.96,563.72 707.21,582.13 708.10,589.09 C708.99,596.06 710.77,616.14 711.60,619.89 C712.43,623.64 714.17,620.92 715.20,621.24 C716.23,621.55 719.37,622.90 720.40,622.59 C721.43,622.27 723.24,619.25 724.00,618.56 C724.76,617.86 726.29,618.56 726.90,616.65 C727.51,614.75 728.45,606.11 729.20,602.21 C729.95,598.30 732.47,582.71 733.30,583.17 C734.13,583.63 735.68,602.30 736.30,606.13 C736.92,609.96 738.06,614.76 738.60,615.99 C739.14,617.21 740.25,620.03 740.90,616.66 C741.55,613.29 743.51,587.41 744.20,587.09 C744.89,586.78 746.23,609.99 746.80,613.97 C747.37,617.96 748.55,620.86 749.10,621.26 C749.65,621.65 751.02,616.96 751.50,617.34 C751.98,617.72 752.52,623.29 753.20,624.51 C753.88,625.72 755.99,628.13 757.30,627.76 C758.61,627.38 762.92,623.33 764.40,621.26 C765.88,619.20 768.77,610.07 770.00,610.07 C771.23,610.07 773.73,619.16 774.90,621.27 C776.07,623.37 778.72,626.99 780.00,628.10 C781.28,629.21 784.53,630.40 785.90,630.79 C787.26,631.19 790.34,631.29 791.70,631.47 C793.07,631.65 796.29,631.73 797.60,632.37 C798.91,633.01 801.87,637.03 802.90,636.96 C803.93,636.90 805.51,632.73 806.40,631.81 C807.29,630.90 809.61,629.52 810.50,629.13 C811.39,628.73 813.39,629.45 814.00,628.46 C814.61,627.46 815.27,623.37 815.70,620.62 C816.13,617.86 817.28,605.28 817.70,604.83 C818.12,604.37 818.91,614.09 819.30,616.70 C819.68,619.31 820.52,625.93 821.00,627.23 C821.48,628.52 822.92,629.47 823.40,627.79 C823.88,626.10 824.62,614.39 825.10,612.78 C825.58,611.17 826.88,613.26 827.50,614.01 C828.12,614.77 829.72,617.97 830.40,619.28 C831.08,620.59 832.65,624.15 833.30,625.22 C833.95,626.29 835.38,629.16 836.00,628.47 C836.62,627.77 838.03,622.34 838.60,619.28 C839.17,616.23 840.35,604.17 840.90,602.26 C841.45,600.35 842.82,603.09 843.30,602.93 C843.78,602.78 844.57,601.38 845.00,600.92 C845.43,600.46 846.52,599.02 847.00,599.02 C847.48,599.02 848.64,598.56 849.10,600.92 C849.56,603.29 850.35,615.68 850.90,619.29 C851.45,622.90 852.91,629.99 853.80,631.84 C854.69,633.68 856.86,634.55 858.50,635.09 C860.14,635.62 864.75,636.28 867.90,636.43 C871.05,636.59 882.42,636.30 885.50,636.44 C888.58,636.59 893.27,637.54 894.30,637.68" fill="none" stroke="#000" stroke-width="1.8" stroke-linejoin="round"/>
<path d="M93.00,717.82 C96.15,717.81 113.35,717.74 120.00,717.70 C126.65,717.66 143.00,717.55 150.00,717.50 C157.00,717.45 174.17,717.33 180.00,717.30 C185.83,717.26 195.92,717.21 200.00,717.20 C204.08,717.18 211.50,717.17 215.00,717.16 C218.50,717.16 225.92,717.16 230.00,717.16 C234.08,717.17 245.33,717.20 250.00,717.22 C254.67,717.23 266.50,717.29 270.00,717.31 C273.50,717.32 275.80,717.37 280.00,717.36 C284.20,717.34 302.31,717.28 306.00,717.17 C309.69,717.06 310.40,716.71 311.60,716.39 C312.80,716.06 315.34,715.31 316.30,714.38 C317.26,713.45 319.11,710.47 319.80,708.41 C320.49,706.35 321.68,698.69 322.20,696.72 C322.72,694.75 323.87,691.52 324.30,691.53 C324.73,691.53 325.49,696.05 325.90,696.73 C326.31,697.41 327.25,698.10 327.80,697.36 C328.35,696.61 329.89,690.52 330.60,690.34 C331.31,690.16 333.11,694.36 333.90,695.78 C334.69,697.21 336.61,701.18 337.40,702.59 C338.19,704.00 339.94,707.86 340.70,707.87 C341.46,707.88 343.21,703.27 343.90,702.66 C344.59,702.05 346.05,701.96 346.60,702.66 C347.15,703.36 348.03,707.23 348.60,708.62 C349.17,710.01 350.49,713.63 351.50,714.58 C352.51,715.53 354.70,716.44 357.30,716.77 C359.90,717.09 368.82,717.27 373.80,717.37 C378.78,717.46 393.44,717.53 400.00,717.55 C406.56,717.57 421.83,717.53 430.00,717.52 C438.17,717.51 460.67,717.49 470.00,717.48 C479.33,717.47 501.83,717.44 510.00,717.43 C518.17,717.42 534.17,717.40 540.00,717.40 C545.83,717.39 554.59,717.49 560.00,717.38 C565.41,717.26 582.61,716.96 586.40,716.45 C590.19,715.93 591.38,716.84 592.50,712.94 C593.62,709.04 595.32,690.00 596.00,683.03 C596.68,676.07 597.82,657.33 598.30,653.23 C598.78,649.14 599.64,646.50 600.10,647.93 C600.56,649.36 601.65,659.38 602.20,665.53 C602.75,671.68 604.18,695.10 604.80,700.62 C605.42,706.15 606.58,711.11 607.50,712.92 C608.42,714.73 610.66,715.71 612.70,716.12 C614.74,716.52 623.25,716.67 625.00,716.40 C626.75,716.13 627.19,713.83 627.70,713.80 C628.21,713.76 628.99,716.10 629.40,716.10 C629.81,716.10 630.69,713.71 631.20,713.80 C631.71,713.88 632.26,716.39 633.80,716.79 C635.34,717.20 642.45,717.53 644.40,717.28 C646.35,717.03 649.38,715.29 650.50,714.67 C651.62,714.05 653.32,713.62 654.00,711.97 C654.68,710.32 655.87,702.10 656.30,700.57 C656.73,699.04 657.25,698.46 657.70,698.87 C658.16,699.27 659.61,703.25 660.20,704.06 C660.80,704.88 662.23,706.16 662.80,705.86 C663.37,705.56 664.59,701.67 665.10,701.46 C665.61,701.25 666.55,702.62 667.20,704.05 C667.85,705.49 669.98,713.13 670.70,713.75 C671.42,714.37 672.78,710.57 673.40,709.35 C674.02,708.12 675.39,703.25 676.00,703.24 C676.61,703.24 677.98,708.53 678.60,709.34 C679.22,710.16 680.68,710.45 681.30,710.24 C681.92,710.03 683.39,708.47 683.90,707.54 C684.41,706.60 684.98,703.16 685.70,702.23 C686.42,701.31 689.28,701.26 690.10,699.63 C690.92,697.99 692.09,693.24 692.70,688.23 C693.31,683.21 694.48,662.53 695.30,656.62 C696.12,650.72 698.67,639.07 699.70,637.62 C700.73,636.17 703.17,639.94 704.10,644.21 C705.03,648.48 706.87,667.13 707.70,674.21 C708.53,681.29 710.19,700.92 711.20,704.91 C712.22,708.89 715.28,707.58 716.40,708.40 C717.52,709.21 719.87,712.00 720.80,711.89 C721.73,711.79 723.68,708.62 724.40,707.49 C725.12,706.36 726.29,705.47 727.00,702.19 C727.71,698.91 729.79,683.89 730.50,679.38 C731.21,674.88 732.48,663.37 733.10,663.58 C733.72,663.79 735.17,676.77 735.80,681.18 C736.43,685.59 737.88,699.02 738.50,701.37 C739.12,703.73 740.39,705.37 741.10,701.37 C741.81,697.37 743.89,667.99 744.60,667.07 C745.31,666.15 746.69,688.95 747.20,693.46 C747.71,697.98 748.49,704.95 749.00,705.76 C749.51,706.58 751.09,700.26 751.60,700.46 C752.11,700.66 752.78,706.27 753.40,707.46 C754.02,708.65 755.87,710.85 756.90,710.65 C757.93,710.45 761.07,707.35 762.20,705.75 C763.33,704.15 765.68,698.69 766.60,696.94 C767.52,695.19 769.28,690.53 770.10,690.74 C770.92,690.95 772.68,696.88 773.60,698.74 C774.52,700.59 776.67,705.10 778.00,706.63 C779.33,708.16 782.95,711.11 785.00,711.82 C787.05,712.53 794.06,712.50 795.60,712.71 C797.14,712.92 797.49,713.20 798.20,713.61 C798.91,714.02 800.78,716.51 801.70,716.20 C802.62,715.90 804.97,712.03 806.10,711.00 C807.23,709.97 810.37,708.22 811.40,707.39 C812.43,706.56 814.18,706.76 814.90,703.89 C815.62,701.02 816.98,682.79 817.60,682.79 C818.22,682.79 819.69,701.01 820.20,703.88 C820.71,706.75 821.38,708.71 822.00,707.38 C822.62,706.05 824.79,693.91 825.50,692.48 C826.21,691.04 827.28,693.74 828.10,695.07 C828.92,696.40 831.58,702.23 832.50,703.87 C833.42,705.51 835.18,710.39 836.00,709.17 C836.82,707.94 838.78,696.23 839.50,693.36 C840.22,690.49 841.69,685.39 842.20,684.56 C842.71,683.73 843.35,686.47 843.90,686.26 C844.45,686.05 846.28,682.75 846.90,682.75 C847.52,682.75 848.63,683.38 849.20,686.25 C849.77,689.12 851.08,704.27 851.80,707.35 C852.52,710.43 854.37,711.71 855.40,712.64 C856.43,713.58 857.94,714.93 860.60,715.34 C863.26,715.74 874.30,715.92 878.20,716.12 C882.10,716.31 892.16,716.90 894.00,717.00" fill="none" stroke="#000" stroke-width="1.8" stroke-linejoin="round"/>
<text transform="translate(573.69,240.86) scale(1.0756,1)" font-size="23.66" font-family='"Liberation Sans", sans-serif' font-weight="normal">1728</text>
<text transform="translate(838.75,350.30) scale(0.9968,1)" font-size="25.00" font-family='"Liberation Sans", sans-serif' font-weight="normal">742</text>
<text transform="translate(854.32,398.18) scale(1.1674,1)" font-size="21.97" font-family='"Liberation Sans", sans-serif' font-weight="normal">608</text>
<text transform="translate(263.69,405.45) scale(1.0462,1)" font-size="25.07" font-family='"Liberation Sans", sans-serif' font-weight="normal">2968</text>
<text transform="translate(332.48,405.45) scale(1.0493,1)" font-size="25.07" font-family='"Liberation Sans", sans-serif' font-weight="normal">2912</text>
<line x1="311.60" y1="409.50" x2="320.50" y2="417.10" stroke="#000" stroke-width="1"/>
<line x1="339.50" y1="406.30" x2="335.70" y2="413.90" stroke="#000" stroke-width="1"/>
<text transform="translate(127.43,366.95) scale(1.0842,1)" font-size="24.06" font-family='"Liberation Sans", sans-serif' font-weight="normal">(a)</text>
<text transform="translate(129.49,412.12) scale(1.0418,1)" font-size="24.17" font-family='"Liberation Sans", sans-serif' font-weight="normal">(b)</text>
<text transform="translate(129.79,475.93) scale(1.2088,1)" font-size="22.25" font-family='"Liberation Sans", sans-serif' font-weight="normal">(c)</text>
<text transform="translate(128.60,548.86) scale(1.1320,1)" font-size="23.53" font-family='"Liberation Sans", sans-serif' font-weight="normal">(d)</text>
<text transform="translate(131.00,627.33) scale(1.1974,1)" font-size="22.25" font-family='"Liberation Sans", sans-serif' font-weight="normal">(e)</text>
<text transform="translate(134.70,708.76) scale(1.1351,1)" font-size="23.53" font-family='"Liberation Sans", sans-serif' font-weight="normal">(f)</text>
<text transform="translate(306.38,454.56) scale(1.0968,1)" font-size="24.08" font-family='"Liberation Sans", sans-serif' font-weight="normal">2926</text>
<text transform="translate(308.01,521.26) scale(1.0707,1)" font-size="24.08" font-family='"Liberation Sans", sans-serif' font-weight="normal">2927</text>
<text transform="translate(303.18,599.56) scale(1.0968,1)" font-size="24.08" font-family='"Liberation Sans", sans-serif' font-weight="normal">2928</text>
<text transform="translate(305.10,682.54) scale(0.9812,1)" font-size="26.48" font-family='"Liberation Sans", sans-serif' font-weight="normal">2930</text>
<text transform="translate(538.79,450.35) scale(1.0228,1)" font-size="24.93" font-family='"Liberation Sans", sans-serif' font-weight="normal">1723</text>
<text transform="translate(536.87,513.50) scale(1.1132,1)" font-size="23.14" font-family='"Liberation Sans", sans-serif' font-weight="normal">1722</text>
<text transform="translate(539.51,585.30) scale(1.0326,1)" font-size="24.43" font-family='"Liberation Sans", sans-serif' font-weight="normal">1721</text>
<text transform="translate(541.17,666.50) scale(1.0074,1)" font-size="24.29" font-family='"Liberation Sans", sans-serif' font-weight="normal">1721</text>
<text transform="translate(788.92,458.55) scale(1.0322,1)" font-size="24.79" font-family='"Liberation Sans", sans-serif' font-weight="normal">743</text>
<text transform="translate(852.59,458.55) scale(1.0569,1)" font-size="24.79" font-family='"Liberation Sans", sans-serif' font-weight="normal">612</text>
<text transform="translate(791.12,527.35) scale(1.0322,1)" font-size="24.79" font-family='"Liberation Sans", sans-serif' font-weight="normal">743</text>
<text transform="translate(851.19,527.35) scale(1.0569,1)" font-size="24.79" font-family='"Liberation Sans", sans-serif' font-weight="normal">612</text>
<text transform="translate(791.12,603.45) scale(1.0381,1)" font-size="24.65" font-family='"Liberation Sans", sans-serif' font-weight="normal">743</text>
<text transform="translate(849.67,603.45) scale(1.0810,1)" font-size="24.65" font-family='"Liberation Sans", sans-serif' font-weight="normal">612</text>
<text transform="translate(791.12,681.05) scale(1.0322,1)" font-size="24.79" font-family='"Liberation Sans", sans-serif' font-weight="normal">743</text>
<text transform="translate(849.68,681.05) scale(1.0681,1)" font-size="24.79" font-family='"Liberation Sans", sans-serif' font-weight="normal">613</text>
<text transform="translate(347.43,835.59) scale(1.0441,1)" font-size="32.41" font-family='"Liberation Sans", sans-serif' font-weight="normal">Wavenumber (cm</text>
<text transform="translate(612.27,819.90) scale(0.8306,1)" font-size="19.57" font-family='"Liberation Sans", sans-serif' font-weight="normal">-1</text>
<text transform="translate(632.06,835.59) scale(0.8733,1)" font-size="32.41" font-family='"Liberation Sans", sans-serif' font-weight="normal">)</text>
<text transform="translate(446.39,943.60) scale(1.0011,1)" font-size="42.31" font-family='"Liberation Serif", serif' font-weight="normal">(</text>
<text transform="translate(460.31,943.37) scale(0.9180,1)" font-size="43.33" font-family='"Liberation Serif", serif' font-weight="bold">a</text>
<text transform="translate(480.81,943.60) scale(0.9364,1)" font-size="42.31" font-family='"Liberation Serif", serif' font-weight="normal">)</text>
<text transform="translate(36.83,487.30) rotate(-90) scale(0.9304,1)" font-size="33.69" font-family='"Liberation Sans", sans-serif'>Absorbance (A)</text>
<line x1="93.00" y1="1056.60" x2="93.00" y2="1689.00" stroke="#000" stroke-width="2.2"/>
<line x1="92.00" y1="1688.00" x2="894.50" y2="1688.00" stroke="#000" stroke-width="2.2"/>
<line x1="93.00" y1="1688.00" x2="93.00" y2="1701.00" stroke="#000" stroke-width="2.2"/>
<line x1="148.61" y1="1688.00" x2="148.61" y2="1695.00" stroke="#000" stroke-width="2.2"/>
<line x1="204.21" y1="1688.00" x2="204.21" y2="1701.00" stroke="#000" stroke-width="2.2"/>
<line x1="259.82" y1="1688.00" x2="259.82" y2="1695.00" stroke="#000" stroke-width="2.2"/>
<line x1="315.43" y1="1688.00" x2="315.43" y2="1701.00" stroke="#000" stroke-width="2.2"/>
<line x1="371.04" y1="1688.00" x2="371.04" y2="1695.00" stroke="#000" stroke-width="2.2"/>
<line x1="426.64" y1="1688.00" x2="426.64" y2="1701.00" stroke="#000" stroke-width="2.2"/>
<line x1="482.25" y1="1688.00" x2="482.25" y2="1695.00" stroke="#000" stroke-width="2.2"/>
<line x1="537.86" y1="1688.00" x2="537.86" y2="1701.00" stroke="#000" stroke-width="2.2"/>
<line x1="593.47" y1="1688.00" x2="593.47" y2="1695.00" stroke="#000" stroke-width="2.2"/>
<line x1="649.07" y1="1688.00" x2="649.07" y2="1701.00" stroke="#000" stroke-width="2.2"/>
<line x1="704.68" y1="1688.00" x2="704.68" y2="1695.00" stroke="#000" stroke-width="2.2"/>
<line x1="760.29" y1="1688.00" x2="760.29" y2="1701.00" stroke="#000" stroke-width="2.2"/>
<line x1="815.90" y1="1688.00" x2="815.90" y2="1695.00" stroke="#000" stroke-width="2.2"/>
<line x1="871.50" y1="1688.00" x2="871.50" y2="1701.00" stroke="#000" stroke-width="2.2"/>
<text transform="translate(62.45,1729.75) scale(1.1218,1)" font-size="24.65" font-family='"Liberation Sans", sans-serif' font-weight="normal">4000</text>
<text transform="translate(173.10,1729.75) scale(1.1322,1)" font-size="24.65" font-family='"Liberation Sans", sans-serif' font-weight="normal">3500</text>
<text transform="translate(284.31,1729.75) scale(1.1322,1)" font-size="24.65" font-family='"Liberation Sans", sans-serif' font-weight="normal">3000</text>
<text transform="translate(395.24,1729.75) scale(1.1375,1)" font-size="24.65" font-family='"Liberation Sans", sans-serif' font-weight="normal">2500</text>
<text transform="translate(506.46,1729.75) scale(1.1375,1)" font-size="24.65" font-family='"Liberation Sans", sans-serif' font-weight="normal">2000</text>
<text transform="translate(616.95,1729.75) scale(1.1510,1)" font-size="24.65" font-family='"Liberation Sans", sans-serif' font-weight="normal">1500</text>
<text transform="translate(728.16,1729.75) scale(1.1510,1)" font-size="24.65" font-family='"Liberation Sans", sans-serif' font-weight="normal">1000</text>
<text transform="translate(847.87,1729.75) scale(1.1482,1)" font-size="24.65" font-family='"Liberation Sans", sans-serif' font-weight="normal">500</text>
<line x1="117.50" y1="1198.00" x2="564.00" y2="1198.00" stroke="#2a2a2a" stroke-width="1.6"/>
<line x1="117.50" y1="1197.50" x2="117.50" y2="1202.80" stroke="#2a2a2a" stroke-width="1.4"/>
<line x1="162.15" y1="1197.50" x2="162.15" y2="1201.00" stroke="#2a2a2a" stroke-width="1.4"/>
<line x1="206.80" y1="1197.50" x2="206.80" y2="1202.80" stroke="#2a2a2a" stroke-width="1.4"/>
<line x1="251.45" y1="1197.50" x2="251.45" y2="1201.00" stroke="#2a2a2a" stroke-width="1.4"/>
<line x1="296.10" y1="1197.50" x2="296.10" y2="1202.80" stroke="#2a2a2a" stroke-width="1.4"/>
<line x1="340.75" y1="1197.50" x2="340.75" y2="1201.00" stroke="#2a2a2a" stroke-width="1.4"/>
<line x1="385.40" y1="1197.50" x2="385.40" y2="1202.80" stroke="#2a2a2a" stroke-width="1.4"/>
<line x1="430.05" y1="1197.50" x2="430.05" y2="1201.00" stroke="#2a2a2a" stroke-width="1.4"/>
<line x1="474.70" y1="1197.50" x2="474.70" y2="1202.80" stroke="#2a2a2a" stroke-width="1.4"/>
<line x1="519.35" y1="1197.50" x2="519.35" y2="1201.00" stroke="#2a2a2a" stroke-width="1.4"/>
<line x1="564.00" y1="1197.50" x2="564.00" y2="1202.80" stroke="#2a2a2a" stroke-width="1.4"/>
<text transform="translate(100.70,1215.19) scale(1.3895,1)" font-size="10.85" font-family='"Liberation Sans", sans-serif' font-weight="normal" fill="#222">3700</text>
<text transform="translate(190.00,1215.19) scale(1.3895,1)" font-size="10.85" font-family='"Liberation Sans", sans-serif' font-weight="normal" fill="#222">3600</text>
<text transform="translate(279.30,1215.19) scale(1.3895,1)" font-size="10.85" font-family='"Liberation Sans", sans-serif' font-weight="normal" fill="#222">3500</text>
<text transform="translate(368.60,1215.19) scale(1.3895,1)" font-size="10.85" font-family='"Liberation Sans", sans-serif' font-weight="normal" fill="#222">3400</text>
<text transform="translate(457.90,1215.19) scale(1.3895,1)" font-size="10.85" font-family='"Liberation Sans", sans-serif' font-weight="normal" fill="#222">3300</text>
<text transform="translate(547.20,1215.19) scale(1.3895,1)" font-size="10.85" font-family='"Liberation Sans", sans-serif' font-weight="normal" fill="#222">3200</text>
<path d="M117.90,1069.60 C122.20,1069.23 135.65,1068.63 143.70,1067.40 C151.75,1066.17 158.72,1064.38 166.20,1062.20 C173.68,1060.02 181.87,1056.92 188.60,1054.30 C195.33,1051.68 200.60,1049.87 206.60,1046.50 C212.60,1043.13 219.37,1038.42 224.60,1034.10 C229.83,1029.78 233.13,1025.65 238.00,1020.60 C242.87,1015.55 248.55,1008.67 253.80,1003.80 C259.05,998.93 263.52,994.77 269.50,991.40 C275.48,988.03 282.58,985.53 289.70,983.60 C296.82,981.67 305.65,980.68 312.20,979.80 C318.75,978.92 324.37,978.53 329.00,978.30 C333.63,978.07 333.73,976.77 340.00,978.40 C346.27,980.03 356.07,984.45 366.60,988.10 C377.13,991.75 388.95,996.23 403.20,1000.30 C417.45,1004.37 435.82,1008.63 452.10,1012.50 C468.38,1016.37 482.25,1020.17 500.90,1023.50 C519.55,1026.83 553.48,1031.00 564.00,1032.50" fill="none" stroke="#000" stroke-width="1.25" stroke-linejoin="round"/>
<path d="M117.90,1098.60 C124.07,1097.78 141.25,1095.83 154.90,1093.70 C168.55,1091.57 186.70,1088.23 199.80,1085.80 C212.90,1083.37 222.27,1081.15 233.50,1079.10 C244.73,1077.05 257.83,1074.88 267.20,1073.50 C276.57,1072.12 282.57,1071.33 289.70,1070.80 C296.83,1070.27 300.08,1070.42 310.00,1070.30 C319.92,1070.18 337.20,1069.45 349.20,1070.10 C361.20,1070.75 367.42,1072.83 382.00,1074.20 C396.58,1075.57 418.47,1077.07 436.70,1078.30 C454.93,1079.53 470.18,1080.55 491.40,1081.60 C512.62,1082.65 551.90,1084.10 564.00,1084.60" fill="none" stroke="#000" stroke-width="1.25" stroke-linejoin="round"/>
<path d="M117.90,1139.70 C124.07,1138.77 143.12,1136.15 154.90,1134.10 C166.68,1132.05 177.37,1130.20 188.60,1127.40 C199.83,1124.60 212.18,1120.48 222.30,1117.30 C232.42,1114.12 241.07,1110.73 249.30,1108.30 C257.53,1105.87 263.10,1104.08 271.70,1102.70 C280.30,1101.32 289.35,1100.78 300.90,1100.00 C312.45,1099.22 327.48,1097.07 341.00,1098.00 C354.52,1098.93 366.05,1103.33 382.00,1105.60 C397.95,1107.87 418.47,1109.77 436.70,1111.60 C454.93,1113.43 470.18,1114.95 491.40,1116.60 C512.62,1118.25 551.90,1120.68 564.00,1121.50" fill="none" stroke="#000" stroke-width="1.25" stroke-linejoin="round"/>
<path d="M117.90,1158.80 C124.07,1158.25 141.25,1157.00 154.90,1155.50 C168.55,1154.00 186.70,1151.48 199.80,1149.80 C212.90,1148.12 222.27,1146.70 233.50,1145.40 C244.73,1144.10 255.97,1142.75 267.20,1142.00 C278.43,1141.25 287.68,1141.27 300.90,1140.90 C314.12,1140.53 332.98,1139.38 346.50,1139.80 C360.02,1140.22 366.97,1142.27 382.00,1143.40 C397.03,1144.53 418.47,1145.70 436.70,1146.60 C454.93,1147.50 470.18,1148.25 491.40,1148.80 C512.62,1149.35 551.90,1149.72 564.00,1149.90" fill="none" stroke="#000" stroke-width="1.25" stroke-linejoin="round"/>
<path d="M117.90,1166.00 C127.82,1165.73 156.25,1164.85 177.40,1164.40 C198.55,1163.95 224.37,1163.57 244.80,1163.30 C265.23,1163.03 283.97,1163.38 300.00,1162.80 C316.03,1162.22 327.33,1160.12 341.00,1159.80 C354.67,1159.48 361.48,1160.58 382.00,1160.90 C402.52,1161.22 433.77,1161.80 464.10,1161.70 C494.43,1161.60 547.35,1160.53 564.00,1160.30" fill="none" stroke="#000" stroke-width="1.25" stroke-linejoin="round"/>
<text transform="translate(302.35,976.69) scale(1.3893,1)" font-size="20.70" font-family='"Liberation Sans", sans-serif' font-weight="normal">3466</text>
<text transform="translate(311.94,1068.00) scale(1.4143,1)" font-size="20.42" font-family='"Liberation Sans", sans-serif' font-weight="normal">3450</text>
<text transform="translate(313.05,1096.70) scale(1.4075,1)" font-size="20.42" font-family='"Liberation Sans", sans-serif' font-weight="normal">3450</text>
<text transform="translate(317.96,1138.21) scale(1.4923,1)" font-size="19.15" font-family='"Liberation Sans", sans-serif' font-weight="normal">3444</text>
<text transform="translate(201.42,1012.25) scale(1.4616,1)" font-size="9.30" font-family='"Liberation Sans", sans-serif' font-weight="bold" fill="#3c3c3c">(a)</text>
<text transform="translate(145.36,1084.00) scale(1.5064,1)" font-size="8.56" font-family='"Liberation Sans", sans-serif' font-weight="bold" fill="#3c3c3c">(c)</text>
<text transform="translate(145.75,1119.40) scale(1.3622,1)" font-size="9.52" font-family='"Liberation Sans", sans-serif' font-weight="bold" fill="#3c3c3c">(d)</text>
<text transform="translate(146.33,1148.01) scale(1.4940,1)" font-size="8.98" font-family='"Liberation Sans", sans-serif' font-weight="bold" fill="#3c3c3c">(e)</text>
<text transform="translate(148.68,1162.36) scale(1.4190,1)" font-size="8.77" font-family='"Liberation Sans", sans-serif' font-weight="bold" fill="#3c3c3c">(f)</text>
<text transform="translate(259.31,1235.25) scale(1.3892,1)" font-size="13.58" font-family='"Liberation Sans", sans-serif' font-weight="normal" fill="#222">Wavenumber (cm</text>
<text transform="translate(406.56,1230.20) scale(1.1748,1)" font-size="8.41" font-family='"Liberation Sans", sans-serif' font-weight="normal" fill="#222">-1</text>
<text transform="translate(417.21,1235.83) scale(1.3639,1)" font-size="12.73" font-family='"Liberation Sans", sans-serif' font-weight="normal" fill="#222">)</text>
<text transform="translate(735.42,1024.92) scale(1.0494,1)" font-size="25.13" font-family='"Liberation Sans", sans-serif' font-weight="normal">(a) Alkyd</text>
<text transform="translate(735.43,1056.52) scale(1.0405,1)" font-size="25.13" font-family='"Liberation Sans", sans-serif' font-weight="normal">(b) Unplasticized PVC-H</text>
<text transform="translate(735.43,1088.12) scale(1.0387,1)" font-size="25.13" font-family='"Liberation Sans", sans-serif' font-weight="normal">(c) PVC-H/DiNP5/ALK2</text>
<text transform="translate(735.44,1119.72) scale(1.0347,1)" font-size="25.13" font-family='"Liberation Sans", sans-serif' font-weight="normal">(d) PVC-H/DOP5/ALK2</text>
<text transform="translate(735.45,1151.32) scale(1.0279,1)" font-size="25.13" font-family='"Liberation Sans", sans-serif' font-weight="normal">(e) PVC-H/DOP6/ALK1</text>
<text transform="translate(735.47,1182.92) scale(1.0166,1)" font-size="25.13" font-family='"Liberation Sans", sans-serif' font-weight="normal">(f) PVC-H/DOP7</text>
<path d="M93.00,1316.26 C97.43,1316.26 122.97,1316.30 131.00,1316.26 C139.03,1316.22 156.54,1316.13 161.80,1315.91 C167.06,1315.70 173.23,1314.91 176.10,1314.42 C178.97,1313.93 183.76,1312.45 186.40,1311.71 C189.04,1310.98 195.60,1308.65 198.70,1308.12 C201.80,1307.60 209.41,1307.14 213.00,1307.25 C216.59,1307.36 224.72,1308.57 229.50,1309.09 C234.28,1309.61 248.74,1311.23 254.00,1311.71 C259.26,1312.19 270.40,1313.03 274.60,1313.20 C278.80,1313.37 285.99,1313.29 290.00,1313.16 C294.01,1313.02 305.81,1312.45 309.00,1312.06 C312.19,1311.68 315.89,1310.65 317.30,1309.88 C318.71,1309.10 320.37,1307.23 321.10,1305.41 C321.84,1303.60 323.09,1296.50 323.60,1294.30 C324.11,1292.10 325.05,1287.49 325.50,1286.51 C325.95,1285.53 327.05,1287.33 327.50,1285.90 C327.95,1284.47 328.96,1278.47 329.40,1274.26 C329.84,1270.06 330.89,1253.86 331.30,1249.85 C331.71,1245.84 332.54,1239.88 332.90,1239.88 C333.26,1239.88 333.92,1245.84 334.40,1249.85 C334.88,1253.86 336.40,1269.60 337.00,1274.26 C337.60,1278.93 338.94,1287.31 339.50,1289.84 C340.06,1292.37 341.20,1295.96 341.80,1295.96 C342.40,1295.96 344.01,1292.37 344.60,1289.84 C345.19,1287.31 346.46,1277.11 346.90,1274.26 C347.34,1271.41 348.07,1265.29 348.40,1265.42 C348.73,1265.56 349.33,1271.78 349.70,1275.40 C350.07,1279.02 351.16,1292.99 351.60,1296.49 C352.04,1299.99 352.68,1303.73 353.50,1305.41 C354.32,1307.10 357.12,1310.09 358.60,1310.92 C360.08,1311.76 363.10,1312.33 366.20,1312.59 C369.30,1312.85 378.92,1312.96 385.20,1313.16 C391.48,1313.35 411.44,1314.12 420.00,1314.25 C428.56,1314.38 449.08,1314.05 458.60,1314.25 C468.12,1314.45 494.76,1315.90 501.60,1316.00 C508.44,1316.10 508.54,1315.12 517.20,1315.12 C525.86,1315.12 568.53,1315.95 575.80,1316.00 C583.07,1316.05 578.37,1315.86 579.50,1315.56 C580.63,1315.27 584.53,1313.87 585.50,1313.46 C586.47,1313.05 587.12,1313.45 587.80,1312.06 C588.48,1310.67 590.55,1308.57 591.30,1301.56 C592.05,1294.56 593.57,1263.80 594.20,1252.04 C594.83,1240.28 596.13,1207.64 596.70,1200.76 C597.27,1193.88 598.55,1193.06 599.10,1193.06 C599.65,1193.06 600.84,1194.89 601.40,1200.76 C601.96,1206.63 603.26,1233.40 603.90,1243.38 C604.54,1253.35 606.05,1278.76 606.90,1286.25 C607.75,1293.74 609.84,1304.61 611.20,1307.60 C612.57,1310.59 617.05,1311.15 618.60,1311.84 C620.15,1312.54 623.47,1313.75 624.50,1313.55 C625.53,1313.35 626.84,1310.24 627.40,1310.14 C627.96,1310.04 628.73,1312.63 629.30,1312.67 C629.87,1312.72 631.61,1310.22 632.30,1310.49 C632.99,1310.75 634.07,1314.30 635.20,1314.95 C636.33,1315.60 640.40,1316.02 642.00,1316.09 C643.60,1316.16 647.76,1316.06 648.90,1315.56 C650.04,1315.07 651.12,1312.48 651.80,1311.84 C652.48,1311.21 654.13,1312.53 654.70,1310.14 C655.27,1307.74 656.25,1293.71 656.70,1291.33 C657.16,1288.94 658.03,1289.26 658.60,1289.66 C659.17,1290.06 660.80,1292.95 661.60,1294.74 C662.40,1296.52 664.59,1304.08 665.50,1304.97 C666.41,1305.87 668.61,1302.84 669.40,1302.44 C670.19,1302.04 671.44,1302.65 672.30,1301.56 C673.16,1300.47 675.89,1293.58 676.80,1293.08 C677.71,1292.57 679.26,1296.68 680.10,1297.28 C680.94,1297.87 683.08,1298.84 684.00,1298.15 C684.92,1297.46 687.09,1294.51 688.00,1291.33 C688.91,1288.14 690.90,1278.03 691.80,1270.85 C692.70,1263.67 694.89,1235.40 695.70,1229.81 C696.51,1224.23 697.83,1224.14 698.70,1222.99 C699.58,1221.83 702.41,1219.13 703.20,1219.92 C703.99,1220.72 704.89,1225.47 705.50,1229.81 C706.11,1234.16 707.61,1252.17 708.40,1257.16 C709.19,1262.14 711.50,1270.12 712.30,1272.51 C713.10,1274.91 714.61,1277.87 715.30,1277.67 C715.99,1277.48 717.29,1274.44 718.20,1270.85 C719.11,1267.26 722.19,1249.88 723.10,1246.88 C724.01,1243.87 725.31,1246.12 726.00,1245.12 C726.69,1244.13 728.31,1238.98 729.00,1238.39 C729.69,1237.80 731.27,1241.05 731.90,1240.05 C732.53,1239.05 733.83,1230.01 734.40,1229.81 C734.97,1229.62 736.23,1235.20 736.80,1238.39 C737.37,1241.58 738.77,1253.15 739.30,1257.16 C739.82,1261.16 740.86,1273.29 741.30,1272.69 C741.74,1272.08 742.62,1255.37 743.10,1251.95 C743.58,1248.53 744.85,1242.26 745.40,1243.38 C745.95,1244.49 747.33,1258.61 747.80,1261.53 C748.27,1264.45 748.94,1267.53 749.40,1268.40 C749.86,1269.27 751.15,1267.42 751.70,1269.01 C752.25,1270.61 753.28,1278.94 754.10,1282.05 C754.92,1285.16 757.93,1294.19 758.75,1295.70 C759.57,1297.21 760.46,1295.48 761.10,1295.00 C761.74,1294.52 763.38,1291.19 764.20,1291.59 C765.02,1291.99 767.10,1296.97 768.10,1298.41 C769.10,1299.85 771.70,1303.12 772.80,1303.92 C773.90,1304.73 776.50,1304.65 777.50,1305.28 C778.50,1305.91 780.30,1308.88 781.40,1309.35 C782.50,1309.82 785.53,1309.19 786.90,1309.35 C788.26,1309.51 791.83,1310.19 793.10,1310.75 C794.37,1311.31 796.61,1313.56 797.80,1314.16 C798.99,1314.76 802.39,1316.31 803.30,1315.91 C804.21,1315.51 804.78,1311.83 805.60,1310.75 C806.42,1309.67 809.42,1307.28 810.30,1306.64 C811.17,1306.00 812.59,1305.12 813.10,1305.28 C813.61,1305.44 814.15,1311.23 814.70,1308.04 C815.25,1304.85 817.18,1280.17 817.80,1277.94 C818.42,1275.70 819.60,1286.49 820.00,1288.88 C820.40,1291.26 820.83,1297.30 821.25,1298.41 C821.67,1299.53 823.06,1298.65 823.60,1298.41 C824.14,1298.18 825.26,1295.28 825.90,1296.40 C826.54,1297.52 828.27,1305.88 829.10,1308.04 C829.93,1310.19 832.18,1313.98 833.00,1314.86 C833.82,1315.74 835.38,1315.88 836.10,1315.56 C836.82,1315.25 838.38,1312.15 839.20,1312.15 C840.02,1312.15 842.10,1315.09 843.10,1315.56 C844.10,1316.04 846.80,1316.30 847.80,1316.22 C848.80,1316.14 850.79,1315.31 851.70,1314.86 C852.61,1314.42 854.60,1312.66 855.60,1312.41 C856.60,1312.17 859.20,1312.48 860.30,1312.76 C861.40,1313.05 863.72,1314.54 865.00,1314.86 C866.28,1315.19 869.88,1315.73 871.25,1315.56 C872.62,1315.40 875.61,1313.63 876.70,1313.46 C877.79,1313.30 879.87,1313.84 880.60,1314.16 C881.34,1314.48 882.72,1315.98 883.00,1316.22" fill="none" stroke="#000" stroke-width="1.8" stroke-linejoin="round"/>
<path d="M93.00,1356.75 C105.48,1356.72 174.16,1356.65 200.00,1356.50 C225.84,1356.35 300.88,1355.63 314.50,1355.50 C328.12,1355.37 316.00,1355.68 316.70,1355.40 C317.40,1355.12 319.61,1353.30 320.50,1353.10 C321.39,1352.90 323.12,1353.77 324.30,1353.70 C325.48,1353.63 329.31,1352.86 330.60,1352.50 C331.90,1352.14 334.51,1350.46 335.40,1350.60 C336.29,1350.74 337.28,1353.12 338.20,1353.70 C339.12,1354.28 333.76,1355.30 343.30,1355.60 C352.84,1355.90 401.72,1356.25 420.00,1356.30 C438.28,1356.35 479.00,1356.04 500.00,1356.00 C521.00,1355.96 581.50,1356.00 600.00,1356.00 C618.50,1356.00 651.36,1356.50 658.60,1356.00 C665.85,1355.50 661.25,1353.64 662.10,1351.70 C662.95,1349.76 665.01,1339.40 665.90,1339.40 C666.79,1339.40 668.50,1350.20 669.70,1351.70 C670.90,1353.20 674.77,1352.81 676.20,1352.30 C677.63,1351.79 680.81,1348.40 682.00,1347.30 C683.19,1346.20 685.37,1342.90 686.40,1342.90 C687.43,1342.90 689.60,1346.45 690.80,1347.30 C692.00,1348.15 695.50,1351.40 696.70,1350.20 C697.90,1349.00 700.07,1338.95 701.10,1337.00 C702.13,1335.05 704.47,1333.15 705.50,1333.50 C706.53,1333.85 709.05,1338.57 709.90,1340.00 C710.75,1341.43 711.61,1344.78 712.80,1345.80 C713.99,1346.82 718.22,1347.74 720.10,1348.70 C721.98,1349.66 726.67,1354.16 728.90,1354.00 C731.13,1353.84 737.15,1347.92 739.20,1347.30 C741.25,1346.68 744.95,1348.20 746.50,1348.70 C748.05,1349.20 750.70,1351.62 752.50,1351.60 C754.30,1351.58 759.98,1349.99 761.90,1348.50 C763.82,1347.01 767.37,1339.21 769.00,1338.80 C770.63,1338.39 774.00,1343.69 775.90,1345.00 C777.80,1346.31 782.75,1349.23 785.30,1350.00 C787.85,1350.77 795.79,1350.96 797.80,1351.60 C799.81,1352.24 800.14,1354.96 802.50,1355.50 C804.86,1356.04 815.63,1356.65 818.00,1356.20 C820.37,1355.75 821.87,1352.79 822.80,1351.60 C823.73,1350.41 825.16,1347.18 826.00,1346.00 C826.84,1344.82 829.10,1341.76 830.00,1341.50 C830.90,1341.24 833.10,1343.25 833.75,1343.80 C834.40,1344.35 834.87,1347.93 835.60,1346.20 C836.33,1344.47 839.02,1331.82 840.00,1329.00 C840.98,1326.18 843.07,1323.34 844.00,1322.00 C844.93,1320.66 847.35,1317.50 848.00,1317.50 C848.65,1317.50 849.08,1319.49 849.60,1322.00 C850.12,1324.51 851.64,1335.73 852.50,1339.00 C853.36,1342.27 855.54,1348.34 857.00,1350.00 C858.46,1351.66 862.32,1352.56 865.00,1353.20 C867.68,1353.84 876.62,1355.06 880.00,1355.50 C883.38,1355.94 892.37,1356.83 894.00,1357.00" fill="none" stroke="#000" stroke-width="1.8" stroke-linejoin="round"/>
<path d="M93.00,1425.75 C96.15,1425.69 113.35,1425.36 120.00,1425.18 C126.65,1425.00 143.00,1424.45 150.00,1424.21 C157.00,1423.98 174.17,1423.36 180.00,1423.19 C185.83,1423.02 195.92,1422.81 200.00,1422.74 C204.08,1422.67 211.50,1422.63 215.00,1422.62 C218.50,1422.62 225.92,1422.66 230.00,1422.72 C234.08,1422.78 245.33,1423.02 250.00,1423.15 C254.67,1423.27 266.50,1423.67 270.00,1423.79 C273.50,1423.90 275.80,1424.03 280.00,1424.13 C284.20,1424.23 302.31,1424.67 306.00,1424.65 C309.69,1424.64 310.40,1424.26 311.60,1424.00 C312.80,1423.74 315.34,1423.23 316.30,1422.43 C317.26,1421.63 319.11,1419.00 319.80,1417.17 C320.49,1415.35 321.68,1408.53 322.20,1406.78 C322.72,1405.04 323.87,1402.18 324.30,1402.19 C324.73,1402.19 325.49,1406.24 325.90,1406.86 C326.31,1407.47 327.25,1408.56 327.80,1407.45 C328.35,1406.33 329.89,1397.82 330.60,1397.30 C331.31,1396.78 333.11,1401.50 333.90,1402.99 C334.69,1404.49 336.61,1408.64 337.40,1410.10 C338.19,1411.56 339.94,1415.51 340.70,1415.51 C341.46,1415.51 343.21,1410.72 343.90,1410.09 C344.59,1409.46 346.05,1409.39 346.60,1410.12 C347.15,1410.86 348.03,1414.92 348.60,1416.38 C349.17,1417.85 350.49,1421.65 351.50,1422.65 C352.51,1423.66 354.70,1424.67 357.30,1425.02 C359.90,1425.38 368.82,1425.61 373.80,1425.72 C378.78,1425.83 393.44,1425.95 400.00,1425.98 C406.56,1426.01 421.83,1425.99 430.00,1425.98 C438.17,1425.98 460.67,1425.97 470.00,1425.96 C479.33,1425.96 501.83,1425.94 510.00,1425.94 C518.17,1425.93 534.17,1425.92 540.00,1425.92 C545.83,1425.92 556.50,1425.86 560.00,1425.91 C563.50,1425.95 567.19,1426.36 570.00,1426.29 C572.81,1426.22 581.85,1425.58 584.10,1425.31 C586.35,1425.03 588.34,1424.80 589.30,1423.93 C590.26,1423.06 591.61,1420.97 592.30,1417.85 C592.99,1414.74 594.52,1402.74 595.20,1397.25 C595.88,1391.76 597.52,1375.00 598.10,1370.78 C598.68,1366.56 599.72,1361.10 600.20,1361.10 C600.68,1361.10 601.69,1365.85 602.20,1370.78 C602.71,1375.70 603.98,1397.56 604.60,1403.32 C605.22,1409.09 606.61,1417.70 607.50,1420.21 C608.39,1422.73 610.15,1424.26 612.20,1424.90 C614.25,1425.53 623.40,1425.81 625.10,1425.67 C626.80,1425.53 626.39,1423.78 626.80,1423.71 C627.21,1423.64 628.12,1425.08 628.60,1425.08 C629.08,1425.08 630.35,1423.61 630.90,1423.71 C631.45,1423.81 632.20,1425.61 633.30,1425.96 C634.40,1426.31 638.39,1426.74 640.30,1426.74 C642.21,1426.74 648.34,1426.28 649.70,1425.95 C651.07,1425.62 651.45,1424.27 652.00,1423.89 C652.55,1423.51 653.78,1424.26 654.40,1422.71 C655.02,1421.17 656.75,1411.72 657.30,1410.66 C657.85,1409.59 658.55,1413.06 659.10,1413.60 C659.65,1414.13 661.32,1415.54 662.00,1415.26 C662.68,1414.99 664.28,1411.04 664.90,1411.24 C665.52,1411.45 666.68,1415.74 667.30,1417.02 C667.92,1418.30 669.52,1421.95 670.20,1422.21 C670.88,1422.48 672.48,1420.28 673.10,1419.27 C673.72,1418.27 674.88,1413.71 675.50,1413.59 C676.12,1413.46 677.65,1417.65 678.40,1418.19 C679.15,1418.73 681.08,1418.73 681.90,1418.19 C682.72,1417.65 684.40,1414.79 685.40,1413.58 C686.40,1412.37 689.70,1409.01 690.50,1407.80 C691.30,1406.58 691.75,1406.94 692.30,1403.19 C692.85,1399.44 694.58,1380.06 695.20,1375.65 C695.82,1371.23 697.05,1367.37 697.60,1365.36 C698.15,1363.34 699.15,1359.07 699.90,1358.40 C700.65,1357.72 703.04,1356.48 704.00,1359.57 C704.96,1362.66 707.21,1378.76 708.10,1384.85 C708.99,1390.95 710.77,1408.52 711.60,1411.80 C712.43,1415.08 714.17,1412.70 715.20,1412.97 C716.23,1413.25 719.37,1414.42 720.40,1414.15 C721.43,1413.87 723.24,1411.22 724.00,1410.62 C724.76,1410.01 726.29,1410.62 726.90,1408.95 C727.51,1407.28 728.45,1399.72 729.20,1396.30 C729.95,1392.89 732.47,1379.24 733.30,1379.64 C734.13,1380.04 735.68,1396.38 736.30,1399.73 C736.92,1403.08 738.06,1407.28 738.60,1408.35 C739.14,1409.43 740.25,1411.89 740.90,1408.94 C741.55,1405.99 743.51,1383.34 744.20,1383.07 C744.89,1382.79 746.23,1403.10 746.80,1406.58 C747.37,1410.07 748.55,1412.61 749.10,1412.95 C749.65,1413.30 751.02,1409.19 751.50,1409.52 C751.98,1409.85 752.52,1414.73 753.20,1415.79 C753.88,1416.85 755.99,1418.96 757.30,1418.63 C758.61,1418.30 762.92,1414.75 764.40,1412.94 C765.88,1411.14 768.77,1403.14 770.00,1403.14 C771.23,1403.14 773.73,1411.10 774.90,1412.94 C776.07,1414.78 778.72,1417.94 780.00,1418.91 C781.28,1419.88 784.53,1420.92 785.90,1421.26 C787.26,1421.60 790.34,1421.68 791.70,1421.84 C793.07,1422.00 796.29,1422.06 797.60,1422.62 C798.91,1423.18 801.87,1426.70 802.90,1426.64 C803.93,1426.58 805.51,1422.93 806.40,1422.13 C807.29,1421.33 809.61,1420.12 810.50,1419.77 C811.39,1419.43 813.39,1420.05 814.00,1419.18 C814.61,1418.31 815.27,1414.74 815.70,1412.32 C816.13,1409.91 817.28,1398.90 817.70,1398.50 C818.12,1398.10 818.91,1406.60 819.30,1408.89 C819.68,1411.18 820.52,1416.97 821.00,1418.10 C821.48,1419.23 822.92,1420.07 823.40,1418.59 C823.88,1417.11 824.62,1406.86 825.10,1405.46 C825.58,1404.05 826.88,1405.87 827.50,1406.53 C828.12,1407.20 829.72,1409.99 830.40,1411.14 C831.08,1412.28 832.65,1415.39 833.30,1416.33 C833.95,1417.27 835.38,1419.78 836.00,1419.17 C836.62,1418.56 838.03,1413.81 838.60,1411.13 C839.17,1408.46 840.35,1397.90 840.90,1396.24 C841.45,1394.57 842.82,1396.96 843.30,1396.82 C843.78,1396.68 844.57,1395.46 845.00,1395.06 C845.43,1394.66 846.52,1393.39 847.00,1393.39 C847.48,1393.39 848.64,1392.98 849.10,1395.05 C849.56,1397.12 850.35,1407.97 850.90,1411.12 C851.45,1414.28 852.91,1420.49 853.80,1422.10 C854.69,1423.71 856.86,1424.47 858.50,1424.94 C860.14,1425.41 864.75,1425.97 867.90,1426.11 C871.05,1426.24 882.42,1425.97 885.50,1426.10 C888.58,1426.22 893.27,1427.04 894.30,1427.17" fill="none" stroke="#000" stroke-width="1.8" stroke-linejoin="round"/>
<path d="M93.00,1513.04 C96.15,1512.95 113.35,1512.54 120.00,1512.31 C126.65,1512.08 143.00,1511.38 150.00,1511.09 C157.00,1510.80 174.17,1510.02 180.00,1509.80 C185.83,1509.58 195.92,1509.31 200.00,1509.23 C204.08,1509.14 211.50,1509.08 215.00,1509.08 C218.50,1509.07 225.92,1509.12 230.00,1509.20 C234.08,1509.27 245.33,1509.57 250.00,1509.73 C254.67,1509.88 266.50,1510.38 270.00,1510.53 C273.50,1510.67 275.80,1510.83 280.00,1510.96 C284.20,1511.10 302.31,1511.68 306.00,1511.69 C309.69,1511.70 310.40,1511.34 311.60,1511.07 C312.80,1510.81 315.34,1510.24 316.30,1509.41 C317.26,1508.58 319.11,1505.84 319.80,1503.94 C320.49,1502.04 321.68,1494.94 322.20,1493.11 C322.72,1491.29 323.87,1488.32 324.30,1488.33 C324.73,1488.34 325.49,1492.56 325.90,1493.21 C326.31,1493.85 327.25,1496.05 327.80,1493.83 C328.35,1491.61 329.89,1475.56 330.60,1474.17 C331.31,1472.78 333.11,1479.90 333.90,1481.94 C334.69,1483.97 336.61,1489.68 337.40,1491.63 C338.19,1493.57 339.94,1498.70 340.70,1498.62 C341.46,1498.55 343.21,1491.89 343.90,1491.01 C344.59,1490.12 346.05,1490.02 346.60,1491.05 C347.15,1492.08 348.03,1497.78 348.60,1499.83 C349.17,1501.88 350.49,1507.18 351.50,1508.63 C352.51,1510.08 354.70,1511.76 357.30,1512.27 C359.90,1512.78 368.82,1512.87 373.80,1512.99 C378.78,1513.10 393.44,1513.22 400.00,1513.25 C406.56,1513.29 421.83,1513.26 430.00,1513.26 C438.17,1513.25 460.67,1513.23 470.00,1513.22 C479.33,1513.21 501.83,1513.19 510.00,1513.18 C518.17,1513.18 534.17,1513.16 540.00,1513.15 C545.83,1513.15 556.50,1513.08 560.00,1513.13 C563.50,1513.19 567.19,1513.70 570.00,1513.62 C572.81,1513.53 581.85,1512.72 584.10,1512.37 C586.35,1512.02 588.34,1511.75 589.30,1510.64 C590.26,1509.54 591.61,1506.85 592.30,1502.88 C592.99,1498.92 594.52,1483.67 595.20,1476.68 C595.88,1469.70 597.52,1448.38 598.10,1443.01 C598.68,1437.65 599.72,1430.69 600.20,1430.69 C600.68,1430.69 601.69,1436.74 602.20,1443.01 C602.71,1449.27 603.98,1477.06 604.60,1484.40 C605.22,1491.74 606.61,1502.68 607.50,1505.88 C608.39,1509.08 610.15,1511.04 612.20,1511.85 C614.25,1512.66 623.40,1513.00 625.10,1512.82 C626.80,1512.65 626.39,1510.45 626.80,1510.36 C627.21,1510.27 628.12,1512.08 628.60,1512.08 C629.08,1512.08 630.35,1510.23 630.90,1510.36 C631.45,1510.49 632.20,1512.74 633.30,1513.18 C634.40,1513.63 638.39,1514.16 640.30,1514.16 C642.21,1514.16 648.34,1513.58 649.70,1513.17 C651.07,1512.75 651.45,1511.06 652.00,1510.58 C652.55,1510.11 653.78,1511.04 654.40,1509.10 C655.02,1507.17 656.75,1495.31 657.30,1493.97 C657.85,1492.64 658.55,1496.99 659.10,1497.66 C659.65,1498.33 661.32,1500.09 662.00,1499.75 C662.68,1499.40 664.28,1494.44 664.90,1494.70 C665.52,1494.96 666.68,1500.35 667.30,1501.96 C667.92,1503.56 669.52,1508.14 670.20,1508.47 C670.88,1508.80 672.48,1506.04 673.10,1504.78 C673.72,1503.52 674.88,1497.80 675.50,1497.64 C676.12,1497.48 677.65,1502.75 678.40,1503.42 C679.15,1504.10 681.08,1504.09 681.90,1503.42 C682.72,1502.74 684.40,1499.16 685.40,1497.63 C686.40,1496.11 689.70,1491.89 690.50,1490.37 C691.30,1488.85 691.75,1489.30 692.30,1484.59 C692.85,1479.88 694.58,1455.56 695.20,1450.02 C695.82,1444.48 697.05,1439.63 697.60,1437.11 C698.15,1434.58 699.15,1429.22 699.90,1428.37 C700.65,1427.52 703.04,1425.97 704.00,1429.84 C704.96,1433.72 707.21,1453.92 708.10,1461.57 C708.99,1469.22 710.77,1491.28 711.60,1495.39 C712.43,1499.51 714.17,1496.52 715.20,1496.87 C716.23,1497.21 719.37,1498.68 720.40,1498.34 C721.43,1497.99 723.24,1494.67 724.00,1493.90 C724.76,1493.14 726.29,1493.91 726.90,1491.81 C727.51,1489.72 728.45,1480.23 729.20,1475.94 C729.95,1471.65 732.47,1454.53 733.30,1455.03 C734.13,1455.53 735.68,1476.04 736.30,1480.24 C736.92,1484.44 738.06,1489.71 738.60,1491.06 C739.14,1492.41 740.25,1495.50 740.90,1491.80 C741.55,1488.09 743.51,1459.67 744.20,1459.32 C744.89,1458.98 746.23,1484.46 746.80,1488.84 C747.37,1493.22 748.55,1496.40 749.10,1496.83 C749.65,1497.26 751.02,1492.11 751.50,1492.52 C751.98,1492.94 752.52,1499.06 753.20,1500.39 C753.88,1501.73 755.99,1504.37 757.30,1503.96 C758.61,1503.54 762.92,1499.09 764.40,1496.82 C765.88,1494.55 768.77,1484.51 770.00,1484.51 C771.23,1484.51 773.73,1494.50 774.90,1496.81 C776.07,1499.12 778.72,1503.09 780.00,1504.30 C781.28,1505.52 784.53,1506.82 785.90,1507.25 C787.26,1507.68 790.34,1507.78 791.70,1507.98 C793.07,1508.18 796.29,1508.26 797.60,1508.96 C798.91,1509.66 801.87,1514.07 802.90,1514.00 C803.93,1513.93 805.51,1509.34 806.40,1508.34 C807.29,1507.33 809.61,1505.81 810.50,1505.38 C811.39,1504.95 813.39,1505.73 814.00,1504.64 C814.61,1503.55 815.27,1499.06 815.70,1496.03 C816.13,1493.00 817.28,1479.18 817.70,1478.68 C818.12,1478.18 818.91,1488.85 819.30,1491.72 C819.68,1494.59 820.52,1501.86 821.00,1503.28 C821.48,1504.70 822.92,1505.74 823.40,1503.89 C823.88,1502.04 824.62,1489.17 825.10,1487.41 C825.58,1485.64 826.88,1487.93 827.50,1488.76 C828.12,1489.59 829.72,1493.10 830.40,1494.54 C831.08,1495.97 832.65,1499.88 833.30,1501.05 C833.95,1502.23 835.38,1505.38 836.00,1504.62 C836.62,1503.86 838.03,1497.89 838.60,1494.53 C839.17,1491.17 840.35,1477.93 840.90,1475.83 C841.45,1473.73 842.82,1476.74 843.30,1476.57 C843.78,1476.39 844.57,1474.85 845.00,1474.35 C845.43,1473.85 846.52,1472.26 847.00,1472.26 C847.48,1472.26 848.64,1471.75 849.10,1474.35 C849.56,1476.94 850.35,1490.56 850.90,1494.52 C851.45,1498.48 852.91,1506.27 853.80,1508.29 C854.69,1510.31 856.86,1511.26 858.50,1511.85 C860.14,1512.44 864.75,1513.15 867.90,1513.32 C871.05,1513.49 882.42,1513.15 885.50,1513.30 C888.58,1513.46 893.27,1514.49 894.30,1514.64" fill="none" stroke="#000" stroke-width="1.8" stroke-linejoin="round"/>
<path d="M93.00,1591.95 C96.15,1591.90 113.35,1591.68 120.00,1591.57 C126.65,1591.45 143.00,1591.11 150.00,1590.96 C157.00,1590.82 174.17,1590.44 180.00,1590.33 C185.83,1590.22 195.92,1590.08 200.00,1590.03 C204.08,1589.99 211.50,1589.95 215.00,1589.94 C218.50,1589.93 225.92,1589.94 230.00,1589.97 C234.08,1590.00 245.33,1590.12 250.00,1590.18 C254.67,1590.24 266.50,1590.45 270.00,1590.51 C273.50,1590.57 275.80,1590.65 280.00,1590.69 C284.20,1590.72 302.31,1590.88 306.00,1590.81 C309.69,1590.74 310.40,1590.36 311.60,1590.09 C312.80,1589.81 315.34,1589.27 316.30,1588.46 C317.26,1587.65 319.11,1584.99 319.80,1583.16 C320.49,1581.33 321.68,1574.50 322.20,1572.75 C322.72,1570.99 323.87,1568.12 324.30,1568.13 C324.73,1568.13 325.49,1572.17 325.90,1572.78 C326.31,1573.39 327.25,1574.67 327.80,1573.35 C328.35,1572.04 329.89,1562.17 330.60,1561.48 C331.31,1560.80 333.11,1565.91 333.90,1567.49 C334.69,1569.06 336.61,1573.37 337.40,1574.98 C338.19,1576.60 339.94,1581.21 340.70,1581.31 C341.46,1581.41 343.21,1576.50 343.90,1575.87 C344.59,1575.23 346.05,1575.15 346.60,1575.88 C347.15,1576.61 348.03,1580.67 348.60,1582.13 C349.17,1583.59 350.49,1587.38 351.50,1588.38 C352.51,1589.38 354.70,1590.37 357.30,1590.72 C359.90,1591.06 368.82,1591.25 373.80,1591.34 C378.78,1591.44 393.44,1591.51 400.00,1591.53 C406.56,1591.55 421.83,1591.50 430.00,1591.48 C438.17,1591.47 460.67,1591.42 470.00,1591.40 C479.33,1591.38 501.83,1591.33 510.00,1591.31 C518.17,1591.30 534.17,1591.26 540.00,1591.25 C545.83,1591.24 556.50,1591.16 560.00,1591.21 C563.50,1591.25 567.19,1591.71 570.00,1591.63 C572.81,1591.54 581.85,1590.81 584.10,1590.50 C586.35,1590.18 588.34,1589.88 589.30,1588.95 C590.26,1588.01 591.61,1585.83 592.30,1582.48 C592.99,1579.14 594.52,1566.20 595.20,1560.28 C595.88,1554.36 597.52,1536.29 598.10,1531.74 C598.68,1527.20 599.72,1521.31 600.20,1521.30 C600.68,1521.30 601.69,1526.43 602.20,1531.73 C602.71,1537.04 603.98,1560.59 604.60,1566.81 C605.22,1573.02 606.61,1582.30 607.50,1585.00 C608.39,1587.71 610.15,1589.32 612.20,1590.00 C614.25,1590.68 623.40,1591.01 625.10,1590.85 C626.80,1590.69 626.39,1588.72 626.80,1588.65 C627.21,1588.57 628.12,1590.18 628.60,1590.18 C629.08,1590.18 630.35,1588.52 630.90,1588.64 C631.45,1588.75 632.20,1590.77 633.30,1591.16 C634.40,1591.56 638.39,1592.03 640.30,1592.03 C642.21,1592.02 648.34,1591.50 649.70,1591.13 C651.07,1590.75 651.45,1589.24 652.00,1588.81 C652.55,1588.39 653.78,1589.22 654.40,1587.49 C655.02,1585.75 656.75,1575.15 657.30,1573.95 C657.85,1572.76 658.55,1576.65 659.10,1577.25 C659.65,1577.85 661.32,1579.42 662.00,1579.11 C662.68,1578.80 664.28,1574.37 664.90,1574.60 C665.52,1574.83 666.68,1579.65 667.30,1581.08 C667.92,1582.52 669.52,1586.61 670.20,1586.90 C670.88,1587.20 672.48,1584.73 673.10,1583.60 C673.72,1582.47 674.88,1577.36 675.50,1577.21 C676.12,1577.07 677.65,1581.78 678.40,1582.38 C679.15,1582.98 681.08,1582.98 681.90,1582.37 C682.72,1581.77 684.40,1578.56 685.40,1577.19 C686.40,1575.83 689.70,1572.05 690.50,1570.69 C691.30,1569.33 691.75,1569.73 692.30,1565.52 C692.85,1561.31 694.58,1539.56 695.20,1534.60 C695.82,1529.65 697.05,1525.31 697.60,1523.05 C698.15,1520.79 699.15,1515.99 699.90,1515.23 C700.65,1514.47 703.04,1513.08 704.00,1516.54 C704.96,1520.01 707.21,1538.08 708.10,1544.91 C708.99,1551.75 710.77,1571.48 711.60,1575.16 C712.43,1578.84 714.17,1576.16 715.20,1576.47 C716.23,1576.78 719.37,1578.09 720.40,1577.78 C721.43,1577.47 723.24,1574.49 724.00,1573.81 C724.76,1573.13 726.29,1573.81 726.90,1571.93 C727.51,1570.06 728.45,1561.58 729.20,1557.74 C729.95,1553.90 732.47,1538.58 733.30,1539.03 C734.13,1539.48 735.68,1557.82 736.30,1561.57 C736.92,1565.33 738.06,1570.04 738.60,1571.25 C739.14,1572.46 740.25,1575.22 740.90,1571.90 C741.55,1568.59 743.51,1543.17 744.20,1542.86 C744.89,1542.55 746.23,1565.34 746.80,1569.25 C747.37,1573.17 748.55,1576.01 749.10,1576.40 C749.65,1576.78 751.02,1572.17 751.50,1572.54 C751.98,1572.91 752.52,1578.39 753.20,1579.58 C753.88,1580.77 755.99,1583.14 757.30,1582.76 C758.61,1582.39 762.92,1578.40 764.40,1576.37 C765.88,1574.33 768.77,1565.36 770.00,1565.35 C771.23,1565.35 773.73,1574.28 774.90,1576.34 C776.07,1578.41 778.72,1581.95 780.00,1583.04 C781.28,1584.13 784.53,1585.29 785.90,1585.67 C787.26,1586.05 790.34,1586.14 791.70,1586.32 C793.07,1586.49 796.29,1586.56 797.60,1587.18 C798.91,1587.81 801.87,1591.75 802.90,1591.68 C803.93,1591.62 805.51,1587.52 806.40,1586.62 C807.29,1585.72 809.61,1584.35 810.50,1583.97 C811.39,1583.58 813.39,1584.28 814.00,1583.30 C814.61,1582.32 815.27,1578.30 815.70,1575.60 C816.13,1572.89 817.28,1560.53 817.70,1560.08 C818.12,1559.63 818.91,1569.17 819.30,1571.74 C819.68,1574.30 820.52,1580.81 821.00,1582.07 C821.48,1583.34 822.92,1584.28 823.40,1582.62 C823.88,1580.96 824.62,1569.46 825.10,1567.88 C825.58,1566.30 826.88,1568.34 827.50,1569.08 C828.12,1569.82 829.72,1572.96 830.40,1574.24 C831.08,1575.53 832.65,1579.02 833.30,1580.07 C833.95,1581.12 835.38,1583.93 836.00,1583.25 C836.62,1582.57 838.03,1577.23 838.60,1574.23 C839.17,1571.22 840.35,1559.38 840.90,1557.50 C841.45,1555.63 842.82,1558.31 843.30,1558.16 C843.78,1558.00 844.57,1556.62 845.00,1556.17 C845.43,1555.72 846.52,1554.30 847.00,1554.30 C847.48,1554.30 848.64,1553.84 849.10,1556.17 C849.56,1558.49 850.35,1570.66 850.90,1574.20 C851.45,1577.74 852.91,1584.71 853.80,1586.52 C854.69,1588.32 856.86,1589.17 858.50,1589.70 C860.14,1590.22 864.75,1590.85 867.90,1591.00 C871.05,1591.14 882.42,1590.82 885.50,1590.96 C888.58,1591.09 893.27,1592.01 894.30,1592.15" fill="none" stroke="#000" stroke-width="1.8" stroke-linejoin="round"/>
<path d="M93.00,1671.35 C96.15,1671.32 113.35,1671.18 120.00,1671.11 C126.65,1671.04 143.00,1670.83 150.00,1670.74 C157.00,1670.65 174.17,1670.41 180.00,1670.35 C185.83,1670.28 195.92,1670.19 200.00,1670.16 C204.08,1670.13 211.50,1670.11 215.00,1670.10 C218.50,1670.10 225.92,1670.10 230.00,1670.11 C234.08,1670.13 245.33,1670.20 250.00,1670.23 C254.67,1670.27 266.50,1670.39 270.00,1670.42 C273.50,1670.46 275.80,1670.52 280.00,1670.53 C284.20,1670.53 302.31,1670.57 306.00,1670.47 C309.69,1670.38 310.40,1670.03 311.60,1669.72 C312.80,1669.40 315.34,1668.69 316.30,1667.78 C317.26,1666.86 319.11,1663.94 319.80,1661.91 C320.49,1659.88 321.68,1652.34 322.20,1650.40 C322.72,1648.47 323.87,1645.29 324.30,1645.29 C324.73,1645.30 325.49,1649.75 325.90,1650.42 C326.31,1651.09 327.25,1651.76 327.80,1651.05 C328.35,1650.34 329.89,1644.49 330.60,1644.33 C331.31,1644.16 333.11,1648.26 333.90,1649.66 C334.69,1651.06 336.61,1654.97 337.40,1656.32 C338.19,1657.68 339.94,1661.31 340.70,1661.28 C341.46,1661.25 343.21,1656.68 343.90,1656.07 C344.59,1655.47 346.05,1655.38 346.60,1656.08 C347.15,1656.78 348.03,1660.65 348.60,1662.04 C349.17,1663.44 350.49,1667.06 351.50,1668.01 C352.51,1668.96 354.70,1669.87 357.30,1670.20 C359.90,1670.52 368.82,1670.72 373.80,1670.81 C378.78,1670.90 393.44,1670.97 400.00,1670.99 C406.56,1671.01 421.83,1670.96 430.00,1670.95 C438.17,1670.94 460.67,1670.90 470.00,1670.89 C479.33,1670.87 501.83,1670.84 510.00,1670.82 C518.17,1670.81 534.17,1670.78 540.00,1670.77 C545.83,1670.77 554.59,1670.85 560.00,1670.74 C565.41,1670.63 582.61,1670.34 586.40,1669.83 C590.19,1669.32 591.38,1670.20 592.50,1666.38 C593.62,1662.56 595.32,1643.90 596.00,1637.07 C596.68,1630.24 597.82,1611.88 598.30,1607.86 C598.78,1603.85 599.64,1601.26 600.10,1602.66 C600.56,1604.07 601.65,1613.89 602.20,1619.91 C602.75,1625.93 604.18,1648.88 604.80,1654.30 C605.42,1659.72 606.58,1664.58 607.50,1666.35 C608.42,1668.13 610.66,1669.09 612.70,1669.49 C614.74,1669.89 623.25,1670.03 625.00,1669.76 C626.75,1669.50 627.19,1667.27 627.70,1667.24 C628.21,1667.20 628.99,1669.47 629.40,1669.47 C629.81,1669.46 630.69,1667.15 631.20,1667.23 C631.71,1667.31 632.26,1669.74 633.80,1670.14 C635.34,1670.53 642.45,1670.85 644.40,1670.61 C646.35,1670.36 649.38,1668.67 650.50,1668.07 C651.62,1667.47 653.32,1667.05 654.00,1665.45 C654.68,1663.85 655.87,1655.87 656.30,1654.39 C656.73,1652.90 657.25,1652.34 657.70,1652.74 C658.16,1653.13 659.61,1656.98 660.20,1657.78 C660.80,1658.57 662.23,1659.81 662.80,1659.52 C663.37,1659.22 664.59,1655.45 665.10,1655.25 C665.61,1655.04 666.55,1656.37 667.20,1657.76 C667.85,1659.15 669.98,1666.57 670.70,1667.17 C671.42,1667.77 672.78,1664.08 673.40,1662.90 C674.02,1661.71 675.39,1656.97 676.00,1656.97 C676.61,1656.97 677.98,1662.10 678.60,1662.89 C679.22,1663.68 680.68,1663.96 681.30,1663.76 C681.92,1663.55 683.39,1662.04 683.90,1661.13 C684.41,1660.23 684.98,1656.88 685.70,1655.99 C686.42,1655.09 689.28,1655.04 690.10,1653.46 C690.92,1651.87 692.09,1647.26 692.70,1642.40 C693.31,1637.53 694.48,1617.47 695.30,1611.74 C696.12,1606.01 698.67,1594.71 699.70,1593.30 C700.73,1591.90 703.17,1595.56 704.10,1599.70 C705.03,1603.84 706.87,1621.92 707.70,1628.79 C708.53,1635.66 710.19,1654.70 711.20,1658.57 C712.22,1662.43 715.28,1661.16 716.40,1661.95 C717.52,1662.74 719.87,1665.44 720.80,1665.34 C721.73,1665.24 723.68,1662.17 724.40,1661.07 C725.12,1659.97 726.29,1659.10 727.00,1655.92 C727.71,1652.74 729.79,1638.17 730.50,1633.80 C731.21,1629.43 732.48,1618.27 733.10,1618.47 C733.72,1618.67 735.17,1631.26 735.80,1635.54 C736.43,1639.81 737.88,1652.84 738.50,1655.13 C739.12,1657.41 740.39,1659.00 741.10,1655.12 C741.81,1651.24 743.89,1622.74 744.60,1621.85 C745.31,1620.95 746.69,1643.07 747.20,1647.45 C747.71,1651.83 748.49,1658.59 749.00,1659.38 C749.51,1660.17 751.09,1654.04 751.60,1654.23 C752.11,1654.42 752.78,1659.87 753.40,1661.02 C754.02,1662.17 755.87,1664.31 756.90,1664.12 C757.93,1663.92 761.07,1660.91 762.20,1659.36 C763.33,1657.80 765.68,1652.51 766.60,1650.81 C767.52,1649.11 769.28,1644.59 770.10,1644.79 C770.92,1645.00 772.68,1650.75 773.60,1652.55 C774.52,1654.35 776.67,1658.72 778.00,1660.20 C779.33,1661.68 782.95,1664.55 785.00,1665.24 C787.05,1665.92 794.06,1665.89 795.60,1666.09 C797.14,1666.29 797.49,1666.57 798.20,1666.96 C798.91,1667.36 800.78,1669.77 801.70,1669.48 C802.62,1669.18 804.97,1665.42 806.10,1664.43 C807.23,1663.43 810.37,1661.73 811.40,1660.93 C812.43,1660.12 814.18,1660.31 814.90,1657.52 C815.62,1654.74 816.98,1637.05 817.60,1637.05 C818.22,1637.05 819.69,1654.73 820.20,1657.52 C820.71,1660.30 821.38,1662.20 822.00,1660.91 C822.62,1659.62 824.79,1647.84 825.50,1646.45 C826.21,1645.06 827.28,1647.68 828.10,1648.97 C828.92,1650.26 831.58,1655.90 832.50,1657.50 C833.42,1659.09 835.18,1663.82 836.00,1662.63 C836.82,1661.44 838.78,1650.08 839.50,1647.30 C840.22,1644.51 841.69,1639.56 842.20,1638.76 C842.71,1637.95 843.35,1640.61 843.90,1640.41 C844.45,1640.20 846.28,1637.01 846.90,1637.01 C847.52,1637.00 848.63,1637.61 849.20,1640.40 C849.77,1643.18 851.08,1657.87 851.80,1660.86 C852.52,1663.85 854.37,1665.09 855.40,1665.99 C856.43,1666.90 857.94,1668.21 860.60,1668.61 C863.26,1669.00 874.30,1669.17 878.20,1669.35 C882.10,1669.54 892.16,1670.10 894.00,1670.20" fill="none" stroke="#000" stroke-width="1.8" stroke-linejoin="round"/>
<text transform="translate(573.66,1193.36) scale(1.0827,1)" font-size="23.94" font-family='"Liberation Sans", sans-serif' font-weight="normal">1728</text>
<text transform="translate(800.43,1273.60) scale(0.9915,1)" font-size="25.71" font-family='"Liberation Sans", sans-serif' font-weight="normal">742</text>
<text transform="translate(854.31,1334.26) scale(1.0654,1)" font-size="24.23" font-family='"Liberation Sans", sans-serif' font-weight="normal">608</text>
<text transform="translate(270.16,1344.05) scale(1.0593,1)" font-size="25.35" font-family='"Liberation Sans", sans-serif' font-weight="normal">2969</text>
<text transform="translate(343.68,1344.05) scale(1.0451,1)" font-size="25.35" font-family='"Liberation Sans", sans-serif' font-weight="normal">2910</text>
<line x1="314.00" y1="1341.70" x2="321.20" y2="1353.50" stroke="#000" stroke-width="1"/>
<line x1="346.70" y1="1339.40" x2="337.50" y2="1350.80" stroke="#000" stroke-width="1"/>
<text transform="translate(111.76,1307.52) scale(1.0486,1)" font-size="26.10" font-family='"Liberation Sans", sans-serif' font-weight="normal">(a)</text>
<text transform="translate(113.27,1348.67) scale(1.0297,1)" font-size="26.31" font-family='"Liberation Sans", sans-serif' font-weight="normal">(b)</text>
<text transform="translate(112.58,1413.32) scale(1.1001,1)" font-size="26.10" font-family='"Liberation Sans", sans-serif' font-weight="normal">(c)</text>
<text transform="translate(114.68,1505.62) scale(1.0346,1)" font-size="26.10" font-family='"Liberation Sans", sans-serif' font-weight="normal">(d)</text>
<text transform="translate(114.99,1583.02) scale(1.0904,1)" font-size="26.10" font-family='"Liberation Sans", sans-serif' font-weight="normal">(e)</text>
<text transform="translate(118.70,1660.19) scale(1.1402,1)" font-size="24.81" font-family='"Liberation Sans", sans-serif' font-weight="normal">(f)</text>
<text transform="translate(316.88,1399.56) scale(1.0905,1)" font-size="24.23" font-family='"Liberation Sans", sans-serif' font-weight="normal">2926</text>
<text transform="translate(303.59,1470.36) scale(1.0916,1)" font-size="23.94" font-family='"Liberation Sans", sans-serif' font-weight="normal">2926</text>
<text transform="translate(301.88,1552.96) scale(1.0924,1)" font-size="24.23" font-family='"Liberation Sans", sans-serif' font-weight="normal">2928</text>
<text transform="translate(300.28,1635.36) scale(1.0867,1)" font-size="24.37" font-family='"Liberation Sans", sans-serif' font-weight="normal">2929</text>
<text transform="translate(537.06,1384.90) scale(1.0880,1)" font-size="23.71" font-family='"Liberation Sans", sans-serif' font-weight="normal">1724</text>
<text transform="translate(537.06,1456.07) scale(1.1088,1)" font-size="23.38" font-family='"Liberation Sans", sans-serif' font-weight="normal">1723</text>
<text transform="translate(538.71,1541.30) scale(1.0387,1)" font-size="24.29" font-family='"Liberation Sans", sans-serif' font-weight="normal">1721</text>
<text transform="translate(542.19,1622.80) scale(1.0036,1)" font-size="24.00" font-family='"Liberation Sans", sans-serif' font-weight="normal">1721</text>
<text transform="translate(790.55,1396.15) scale(0.9922,1)" font-size="25.21" font-family='"Liberation Sans", sans-serif' font-weight="normal">743</text>
<text transform="translate(851.08,1398.84) scale(1.0049,1)" font-size="26.20" font-family='"Liberation Sans", sans-serif' font-weight="normal">612</text>
<text transform="translate(792.32,1477.15) scale(1.0415,1)" font-size="24.51" font-family='"Liberation Sans", sans-serif' font-weight="normal">743</text>
<text transform="translate(849.58,1480.95) scale(1.0742,1)" font-size="24.51" font-family='"Liberation Sans", sans-serif' font-weight="normal">612</text>
<text transform="translate(792.04,1558.25) scale(1.0285,1)" font-size="24.51" font-family='"Liberation Sans", sans-serif' font-weight="normal">743</text>
<text transform="translate(852.19,1561.25) scale(1.0664,1)" font-size="24.51" font-family='"Liberation Sans", sans-serif' font-weight="normal">612</text>
<text transform="translate(790.54,1633.95) scale(1.0285,1)" font-size="24.51" font-family='"Liberation Sans", sans-serif' font-weight="normal">743</text>
<text transform="translate(849.87,1637.75) scale(1.0873,1)" font-size="24.51" font-family='"Liberation Sans", sans-serif' font-weight="normal">612</text>
<text transform="translate(348.33,1786.06) scale(1.0180,1)" font-size="33.05" font-family='"Liberation Sans", sans-serif' font-weight="normal">Wavenumber (cm</text>
<text transform="translate(612.24,1770.40) scale(0.8689,1)" font-size="19.42" font-family='"Liberation Sans", sans-serif' font-weight="normal">-1</text>
<text transform="translate(632.05,1786.06) scale(0.9249,1)" font-size="33.05" font-family='"Liberation Sans", sans-serif' font-weight="normal">)</text>
<text transform="translate(444.10,1894.08) scale(0.9430,1)" font-size="42.42" font-family='"Liberation Serif", serif' font-weight="normal">(</text>
<text transform="translate(458.16,1894.17) scale(1.0287,1)" font-size="43.12" font-family='"Liberation Serif", serif' font-weight="bold">b</text>
<text transform="translate(482.82,1894.08) scale(0.9249,1)" font-size="42.42" font-family='"Liberation Serif", serif' font-weight="normal">)</text>
<text transform="translate(36.83,1437.30) rotate(-90) scale(0.9304,1)" font-size="33.69" font-family='"Liberation Sans", sans-serif'>Absorbance (A)</text>
</g>
</svg>
</body></html>
